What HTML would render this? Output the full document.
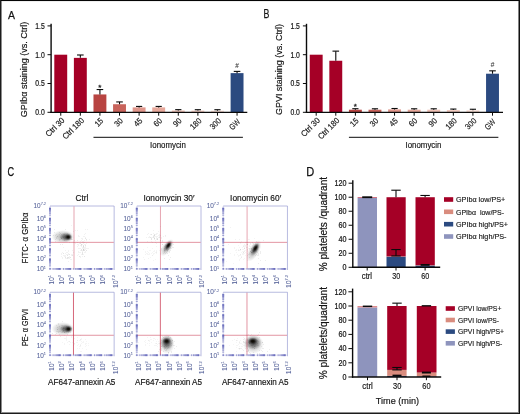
<!DOCTYPE html>
<html lang="en">
<head>
<meta charset="utf-8">
<title>Figure</title>
<style>
html, body { margin: 0; padding: 0; background: #fff; }
body { width: 520px; height: 414px; overflow: hidden; }
.frame { position: relative; width: 520px; height: 414px; box-sizing: border-box; background: #fff; }
svg { display: block; font-family: "Liberation Sans", sans-serif; }
</style>
</head>
<body>
<div class="frame">
<svg width="520" height="414" viewBox="0 0 520 414">
<text transform="translate(7.9 18.5)" font-size="11.8" text-anchor="start" fill="#141414" stroke="#141414" stroke-width="0.25" textLength="7" lengthAdjust="spacingAndGlyphs">A</text>
<rect x="54.30" y="54.70" width="12.90" height="57.60" fill="#a50026"/>
<line x1="60.75" y1="112.3" x2="60.75" y2="115.7" stroke="#0a0a0a" stroke-width="1.0"/>
<text transform="translate(65.05 120.9) rotate(-45)" font-size="8.2" text-anchor="end" fill="#141414" stroke="#141414" stroke-width="0.16" textLength="23" lengthAdjust="spacingAndGlyphs">Ctrl 30</text>
<rect x="73.89" y="57.87" width="12.90" height="54.43" fill="#a50026"/>
<line x1="80.34" y1="54.99" x2="80.34" y2="57.87" stroke="#0a0a0a" stroke-width="1.1"/>
<line x1="77.04" y1="54.99" x2="83.64" y2="54.99" stroke="#0a0a0a" stroke-width="1.1"/>
<line x1="80.34" y1="112.3" x2="80.34" y2="115.7" stroke="#0a0a0a" stroke-width="1.0"/>
<text transform="translate(84.64 120.9) rotate(-45)" font-size="8.2" text-anchor="end" fill="#141414" stroke="#141414" stroke-width="0.16" textLength="26.8" lengthAdjust="spacingAndGlyphs">Ctrl 180</text>
<rect x="93.48" y="94.44" width="12.90" height="17.86" fill="#b84441"/>
<line x1="99.93" y1="89.55" x2="99.93" y2="94.44" stroke="#0a0a0a" stroke-width="1.1"/>
<line x1="96.63" y1="89.55" x2="103.23" y2="89.55" stroke="#0a0a0a" stroke-width="1.1"/>
<line x1="99.93" y1="112.3" x2="99.93" y2="115.7" stroke="#0a0a0a" stroke-width="1.0"/>
<text transform="translate(103.83 121.2) rotate(-45)" font-size="8.2" text-anchor="end" fill="#141414" stroke="#141414" stroke-width="0.16" textLength="8.4" lengthAdjust="spacingAndGlyphs">15</text>
<text transform="translate(99.93 89.85)" font-size="8" text-anchor="middle" fill="#2a2a2a" stroke="#2a2a2a" stroke-width="0.35">*</text>
<rect x="113.07" y="104.24" width="12.90" height="8.06" fill="#c8635b"/>
<line x1="119.52" y1="101.93" x2="119.52" y2="104.24" stroke="#0a0a0a" stroke-width="1.1"/>
<line x1="116.22" y1="101.93" x2="122.82" y2="101.93" stroke="#0a0a0a" stroke-width="1.1"/>
<line x1="119.52" y1="112.3" x2="119.52" y2="115.7" stroke="#0a0a0a" stroke-width="1.0"/>
<text transform="translate(123.42 121.2) rotate(-45)" font-size="8.2" text-anchor="end" fill="#141414" stroke="#141414" stroke-width="0.16" textLength="8.4" lengthAdjust="spacingAndGlyphs">30</text>
<rect x="132.66" y="107.40" width="12.90" height="4.90" fill="#e0968b"/>
<line x1="139.11" y1="106.42" x2="139.11" y2="107.4" stroke="#0a0a0a" stroke-width="1.1"/>
<line x1="136.01" y1="106.42" x2="142.21" y2="106.42" stroke="#0a0a0a" stroke-width="1.1"/>
<line x1="139.11" y1="112.3" x2="139.11" y2="115.7" stroke="#0a0a0a" stroke-width="1.0"/>
<text transform="translate(143.01 121.2) rotate(-45)" font-size="8.2" text-anchor="end" fill="#141414" stroke="#141414" stroke-width="0.16" textLength="8.4" lengthAdjust="spacingAndGlyphs">45</text>
<rect x="152.25" y="107.40" width="12.90" height="4.90" fill="#e7a89b"/>
<line x1="158.7" y1="106.42" x2="158.7" y2="107.4" stroke="#0a0a0a" stroke-width="1.1"/>
<line x1="155.6" y1="106.42" x2="161.8" y2="106.42" stroke="#0a0a0a" stroke-width="1.1"/>
<line x1="158.7" y1="112.3" x2="158.7" y2="115.7" stroke="#0a0a0a" stroke-width="1.0"/>
<text transform="translate(162.6 121.2) rotate(-45)" font-size="8.2" text-anchor="end" fill="#141414" stroke="#141414" stroke-width="0.16" textLength="8.4" lengthAdjust="spacingAndGlyphs">60</text>
<rect x="171.84" y="110.46" width="12.90" height="1.84" fill="#f0c2b6"/>
<line x1="178.29" y1="109.65" x2="178.29" y2="110.46" stroke="#0a0a0a" stroke-width="1.1"/>
<line x1="175.19" y1="109.65" x2="181.39" y2="109.65" stroke="#0a0a0a" stroke-width="1.1"/>
<line x1="178.29" y1="112.3" x2="178.29" y2="115.7" stroke="#0a0a0a" stroke-width="1.0"/>
<text transform="translate(182.19 121.2) rotate(-45)" font-size="8.2" text-anchor="end" fill="#141414" stroke="#141414" stroke-width="0.16" textLength="8.4" lengthAdjust="spacingAndGlyphs">90</text>
<rect x="191.43" y="110.57" width="12.90" height="1.73" fill="#f3cdc2"/>
<line x1="197.88" y1="109.71" x2="197.88" y2="110.57" stroke="#0a0a0a" stroke-width="1.1"/>
<line x1="194.78" y1="109.71" x2="200.98" y2="109.71" stroke="#0a0a0a" stroke-width="1.1"/>
<line x1="197.88" y1="112.3" x2="197.88" y2="115.7" stroke="#0a0a0a" stroke-width="1.0"/>
<text transform="translate(202.08 121.3) rotate(-45)" font-size="8.2" text-anchor="end" fill="#141414" stroke="#141414" stroke-width="0.16" textLength="12.4" lengthAdjust="spacingAndGlyphs">180</text>
<rect x="211.02" y="110.69" width="12.90" height="1.61" fill="#f7dcd3"/>
<line x1="217.47" y1="109.71" x2="217.47" y2="110.69" stroke="#0a0a0a" stroke-width="1.1"/>
<line x1="214.37" y1="109.71" x2="220.57" y2="109.71" stroke="#0a0a0a" stroke-width="1.1"/>
<line x1="217.47" y1="112.3" x2="217.47" y2="115.7" stroke="#0a0a0a" stroke-width="1.0"/>
<text transform="translate(221.67 121.3) rotate(-45)" font-size="8.2" text-anchor="end" fill="#141414" stroke="#141414" stroke-width="0.16" textLength="12.4" lengthAdjust="spacingAndGlyphs">300</text>
<rect x="230.61" y="73.13" width="12.90" height="39.17" fill="#2b4a80"/>
<line x1="237.06" y1="71.4" x2="237.06" y2="73.13" stroke="#0a0a0a" stroke-width="1.1"/>
<line x1="233.76" y1="71.4" x2="240.36" y2="71.4" stroke="#0a0a0a" stroke-width="1.1"/>
<line x1="237.06" y1="112.3" x2="237.06" y2="115.7" stroke="#0a0a0a" stroke-width="1.0"/>
<text transform="translate(240.66 122.3) rotate(-45)" font-size="8.2" text-anchor="end" fill="#141414" stroke="#141414" stroke-width="0.16" textLength="11.6" lengthAdjust="spacingAndGlyphs">GW</text>
<text transform="translate(237.06 67.7)" font-size="6.4" text-anchor="middle" fill="#3a3a3a" stroke="#3a3a3a" stroke-width="0.08" textLength="3.6" lengthAdjust="spacingAndGlyphs">#</text>
<line x1="51.1" y1="23.8" x2="51.1" y2="113" stroke="#0a0a0a" stroke-width="1.4"/>
<line x1="50.4" y1="112.3" x2="247.3" y2="112.3" stroke="#0a0a0a" stroke-width="1.3"/>
<line x1="47.5" y1="112.3" x2="51.1" y2="112.3" stroke="#0a0a0a" stroke-width="1.0"/>
<text transform="translate(44.8 115.1)" font-size="8.3" text-anchor="end" fill="#141414" stroke="#141414" stroke-width="0.2" textLength="9.5" lengthAdjust="spacingAndGlyphs">0.0</text>
<line x1="47.5" y1="83.5" x2="51.1" y2="83.5" stroke="#0a0a0a" stroke-width="1.0"/>
<text transform="translate(44.8 86.3)" font-size="8.3" text-anchor="end" fill="#141414" stroke="#141414" stroke-width="0.2" textLength="9.5" lengthAdjust="spacingAndGlyphs">0.5</text>
<line x1="47.5" y1="54.7" x2="51.1" y2="54.7" stroke="#0a0a0a" stroke-width="1.0"/>
<text transform="translate(44.8 57.5)" font-size="8.3" text-anchor="end" fill="#141414" stroke="#141414" stroke-width="0.2" textLength="9.5" lengthAdjust="spacingAndGlyphs">1.0</text>
<line x1="47.5" y1="25.9" x2="51.1" y2="25.9" stroke="#0a0a0a" stroke-width="1.0"/>
<text transform="translate(44.8 28.7)" font-size="8.3" text-anchor="end" fill="#141414" stroke="#141414" stroke-width="0.2" textLength="9.5" lengthAdjust="spacingAndGlyphs">1.5</text>
<text transform="translate(27.4 69.5) rotate(-90)" font-size="9.9" text-anchor="middle" fill="#141414" stroke="#141414" stroke-width="0.17" textLength="95.5" lengthAdjust="spacingAndGlyphs">GPIbα staining (vs. Ctrl)</text>
<line x1="93.48" y1="137.3" x2="242.91" y2="137.3" stroke="#0a0a0a" stroke-width="1.0"/>
<text transform="translate(150.1 147.8)" font-size="8.6" text-anchor="start" fill="#141414" stroke="#141414" stroke-width="0.16" textLength="35.9" lengthAdjust="spacingAndGlyphs">Ionomycin</text>
<text transform="translate(263.6 18.35)" font-size="11.9" text-anchor="start" fill="#141414" stroke="#141414" stroke-width="0.25" textLength="5.9" lengthAdjust="spacingAndGlyphs">B</text>
<rect x="309.75" y="54.70" width="12.90" height="57.60" fill="#a50026"/>
<line x1="316.2" y1="112.3" x2="316.2" y2="115.7" stroke="#0a0a0a" stroke-width="1.0"/>
<text transform="translate(320.5 120.9) rotate(-45)" font-size="8.2" text-anchor="end" fill="#141414" stroke="#141414" stroke-width="0.16" textLength="23" lengthAdjust="spacingAndGlyphs">Ctrl 30</text>
<rect x="329.34" y="60.75" width="12.90" height="51.55" fill="#a50026"/>
<line x1="335.79" y1="51.13" x2="335.79" y2="60.75" stroke="#0a0a0a" stroke-width="1.1"/>
<line x1="332.49" y1="51.13" x2="339.09" y2="51.13" stroke="#0a0a0a" stroke-width="1.1"/>
<line x1="335.79" y1="112.3" x2="335.79" y2="115.7" stroke="#0a0a0a" stroke-width="1.0"/>
<text transform="translate(340.09 120.9) rotate(-45)" font-size="8.2" text-anchor="end" fill="#141414" stroke="#141414" stroke-width="0.16" textLength="26.8" lengthAdjust="spacingAndGlyphs">Ctrl 180</text>
<rect x="348.93" y="109.71" width="12.90" height="2.59" fill="#b84441"/>
<line x1="355.38" y1="108.7" x2="355.38" y2="109.71" stroke="#0a0a0a" stroke-width="1.1"/>
<line x1="352.28" y1="108.7" x2="358.48" y2="108.7" stroke="#0a0a0a" stroke-width="1.1"/>
<line x1="355.38" y1="112.3" x2="355.38" y2="115.7" stroke="#0a0a0a" stroke-width="1.0"/>
<text transform="translate(359.28 121.2) rotate(-45)" font-size="8.2" text-anchor="end" fill="#141414" stroke="#141414" stroke-width="0.16" textLength="8.4" lengthAdjust="spacingAndGlyphs">15</text>
<text transform="translate(355.38 109)" font-size="8" text-anchor="middle" fill="#2a2a2a" stroke="#2a2a2a" stroke-width="0.35">*</text>
<rect x="368.52" y="109.71" width="12.90" height="2.59" fill="#c8635b"/>
<line x1="374.97" y1="108.79" x2="374.97" y2="109.71" stroke="#0a0a0a" stroke-width="1.1"/>
<line x1="371.87" y1="108.79" x2="378.07" y2="108.79" stroke="#0a0a0a" stroke-width="1.1"/>
<line x1="374.97" y1="112.3" x2="374.97" y2="115.7" stroke="#0a0a0a" stroke-width="1.0"/>
<text transform="translate(378.87 121.2) rotate(-45)" font-size="8.2" text-anchor="end" fill="#141414" stroke="#141414" stroke-width="0.16" textLength="8.4" lengthAdjust="spacingAndGlyphs">30</text>
<rect x="388.11" y="109.42" width="12.90" height="2.88" fill="#e0968b"/>
<line x1="394.56" y1="108.5" x2="394.56" y2="109.42" stroke="#0a0a0a" stroke-width="1.1"/>
<line x1="391.46" y1="108.5" x2="397.66" y2="108.5" stroke="#0a0a0a" stroke-width="1.1"/>
<line x1="394.56" y1="112.3" x2="394.56" y2="115.7" stroke="#0a0a0a" stroke-width="1.0"/>
<text transform="translate(398.46 121.2) rotate(-45)" font-size="8.2" text-anchor="end" fill="#141414" stroke="#141414" stroke-width="0.16" textLength="8.4" lengthAdjust="spacingAndGlyphs">45</text>
<rect x="407.70" y="109.71" width="12.90" height="2.59" fill="#e7a89b"/>
<line x1="414.15" y1="108.79" x2="414.15" y2="109.71" stroke="#0a0a0a" stroke-width="1.1"/>
<line x1="411.05" y1="108.79" x2="417.25" y2="108.79" stroke="#0a0a0a" stroke-width="1.1"/>
<line x1="414.15" y1="112.3" x2="414.15" y2="115.7" stroke="#0a0a0a" stroke-width="1.0"/>
<text transform="translate(418.05 121.2) rotate(-45)" font-size="8.2" text-anchor="end" fill="#141414" stroke="#141414" stroke-width="0.16" textLength="8.4" lengthAdjust="spacingAndGlyphs">60</text>
<rect x="427.29" y="109.71" width="12.90" height="2.59" fill="#f0c2b6"/>
<line x1="433.74" y1="108.79" x2="433.74" y2="109.71" stroke="#0a0a0a" stroke-width="1.1"/>
<line x1="430.64" y1="108.79" x2="436.84" y2="108.79" stroke="#0a0a0a" stroke-width="1.1"/>
<line x1="433.74" y1="112.3" x2="433.74" y2="115.7" stroke="#0a0a0a" stroke-width="1.0"/>
<text transform="translate(437.64 121.2) rotate(-45)" font-size="8.2" text-anchor="end" fill="#141414" stroke="#141414" stroke-width="0.16" textLength="8.4" lengthAdjust="spacingAndGlyphs">90</text>
<rect x="446.88" y="110.00" width="12.90" height="2.30" fill="#f3cdc2"/>
<line x1="453.33" y1="109.07" x2="453.33" y2="110" stroke="#0a0a0a" stroke-width="1.1"/>
<line x1="450.23" y1="109.07" x2="456.43" y2="109.07" stroke="#0a0a0a" stroke-width="1.1"/>
<line x1="453.33" y1="112.3" x2="453.33" y2="115.7" stroke="#0a0a0a" stroke-width="1.0"/>
<text transform="translate(457.53 121.3) rotate(-45)" font-size="8.2" text-anchor="end" fill="#141414" stroke="#141414" stroke-width="0.16" textLength="12.4" lengthAdjust="spacingAndGlyphs">180</text>
<rect x="466.47" y="110.28" width="12.90" height="2.02" fill="#f7dcd3"/>
<line x1="472.92" y1="109.25" x2="472.92" y2="110.28" stroke="#0a0a0a" stroke-width="1.1"/>
<line x1="469.82" y1="109.25" x2="476.02" y2="109.25" stroke="#0a0a0a" stroke-width="1.1"/>
<line x1="472.92" y1="112.3" x2="472.92" y2="115.7" stroke="#0a0a0a" stroke-width="1.0"/>
<text transform="translate(477.12 121.3) rotate(-45)" font-size="8.2" text-anchor="end" fill="#141414" stroke="#141414" stroke-width="0.16" textLength="12.4" lengthAdjust="spacingAndGlyphs">300</text>
<rect x="486.06" y="73.71" width="12.90" height="38.59" fill="#2b4a80"/>
<line x1="492.51" y1="70.83" x2="492.51" y2="73.71" stroke="#0a0a0a" stroke-width="1.1"/>
<line x1="489.21" y1="70.83" x2="495.81" y2="70.83" stroke="#0a0a0a" stroke-width="1.1"/>
<line x1="492.51" y1="112.3" x2="492.51" y2="115.7" stroke="#0a0a0a" stroke-width="1.0"/>
<text transform="translate(496.11 122.3) rotate(-45)" font-size="8.2" text-anchor="end" fill="#141414" stroke="#141414" stroke-width="0.16" textLength="11.6" lengthAdjust="spacingAndGlyphs">GW</text>
<text transform="translate(492.51 67.13)" font-size="6.4" text-anchor="middle" fill="#3a3a3a" stroke="#3a3a3a" stroke-width="0.08" textLength="3.6" lengthAdjust="spacingAndGlyphs">#</text>
<line x1="306.5" y1="23.8" x2="306.5" y2="113" stroke="#0a0a0a" stroke-width="1.4"/>
<line x1="305.8" y1="112.3" x2="503" y2="112.3" stroke="#0a0a0a" stroke-width="1.3"/>
<line x1="302.9" y1="112.3" x2="306.5" y2="112.3" stroke="#0a0a0a" stroke-width="1.0"/>
<text transform="translate(299.9 115.1)" font-size="8.3" text-anchor="end" fill="#141414" stroke="#141414" stroke-width="0.2" textLength="9.5" lengthAdjust="spacingAndGlyphs">0.0</text>
<line x1="302.9" y1="83.5" x2="306.5" y2="83.5" stroke="#0a0a0a" stroke-width="1.0"/>
<text transform="translate(299.9 86.3)" font-size="8.3" text-anchor="end" fill="#141414" stroke="#141414" stroke-width="0.2" textLength="9.5" lengthAdjust="spacingAndGlyphs">0.5</text>
<line x1="302.9" y1="54.7" x2="306.5" y2="54.7" stroke="#0a0a0a" stroke-width="1.0"/>
<text transform="translate(299.9 57.5)" font-size="8.3" text-anchor="end" fill="#141414" stroke="#141414" stroke-width="0.2" textLength="9.5" lengthAdjust="spacingAndGlyphs">1.0</text>
<line x1="302.9" y1="25.9" x2="306.5" y2="25.9" stroke="#0a0a0a" stroke-width="1.0"/>
<text transform="translate(299.9 28.7)" font-size="8.3" text-anchor="end" fill="#141414" stroke="#141414" stroke-width="0.2" textLength="9.5" lengthAdjust="spacingAndGlyphs">1.5</text>
<text transform="translate(282.3 69.5) rotate(-90)" font-size="9.9" text-anchor="middle" fill="#141414" stroke="#141414" stroke-width="0.17" textLength="91" lengthAdjust="spacingAndGlyphs">GPVI staining (vs. Ctrl)</text>
<line x1="348.93" y1="137.3" x2="498.36" y2="137.3" stroke="#0a0a0a" stroke-width="1.0"/>
<text transform="translate(405.5 147.8)" font-size="8.6" text-anchor="start" fill="#141414" stroke="#141414" stroke-width="0.16" textLength="35.9" lengthAdjust="spacingAndGlyphs">Ionomycin</text>
<text transform="translate(7.6 175.7)" font-size="12.1" text-anchor="start" fill="#141414" stroke="#141414" stroke-width="0.25" textLength="6.6" lengthAdjust="spacingAndGlyphs">C</text>
<defs>
<radialGradient id="g1"><stop offset="0" stop-color="#0a0600" stop-opacity="0.97"/><stop offset="0.28" stop-color="#0a0600" stop-opacity="0.88"/><stop offset="0.6" stop-color="#151515" stop-opacity="0.45"/><stop offset="1" stop-color="#333" stop-opacity="0"/></radialGradient>
<radialGradient id="g2"><stop offset="0" stop-color="#222" stop-opacity="0.42"/><stop offset="0.5" stop-color="#333" stop-opacity="0.22"/><stop offset="1" stop-color="#444" stop-opacity="0"/></radialGradient>
<radialGradient id="g3"><stop offset="0" stop-color="#333" stop-opacity="0.1"/><stop offset="0.6" stop-color="#444" stop-opacity="0.05"/><stop offset="1" stop-color="#555" stop-opacity="0"/></radialGradient>
<radialGradient id="g5"><stop offset="0" stop-color="#111" stop-opacity="0.6"/><stop offset="0.45" stop-color="#1a1a1a" stop-opacity="0.42"/><stop offset="0.75" stop-color="#2a2a2a" stop-opacity="0.18"/><stop offset="1" stop-color="#444" stop-opacity="0"/></radialGradient>
<radialGradient id="g4"><stop offset="0" stop-color="#333" stop-opacity="0.035"/><stop offset="0.6" stop-color="#444" stop-opacity="0.02"/><stop offset="1" stop-color="#555" stop-opacity="0"/></radialGradient>
</defs>
<path d="M61 253h1v1h-1zM61 254h1v1h-1zM61 256h1v1h-1zM62 252h1v1h-1zM62 257h1v1h-1zM62 258h1v1h-1zM63 247h1v1h-1zM63 255h1v1h-1zM64 239h1v1h-1zM64 255h1v1h-1zM64 256h1v1h-1zM65 250h1v1h-1zM65 253h1v1h-1zM65 255h1v1h-1zM65 256h1v1h-1zM65 258h1v1h-1zM66 252h1v1h-1zM66 254h1v1h-1zM66 258h1v1h-1zM67 252h1v1h-1zM67 254h1v1h-1zM68 250h1v1h-1zM68 251h1v1h-1zM68 253h1v1h-1zM68 254h1v1h-1zM68 258h1v1h-1zM68 261h1v1h-1zM69 256h1v1h-1zM69 257h1v1h-1zM69 258h1v1h-1zM70 259h1v1h-1zM71 225h1v1h-1zM71 254h1v1h-1zM71 255h1v1h-1zM71 259h1v1h-1zM72 250h1v1h-1zM72 254h1v1h-1zM73 231h1v1h-1zM73 252h1v1h-1zM75 230h1v1h-1zM75 243h1v1h-1zM77 230h1v1h-1zM77 242h1v1h-1zM77 244h1v1h-1zM77 246h1v1h-1zM77 255h1v1h-1zM78 235h1v1h-1zM78 236h1v1h-1zM78 244h1v1h-1zM78 245h1v1h-1zM78 248h1v1h-1zM78 251h1v1h-1zM78 252h1v1h-1zM78 254h1v1h-1zM79 236h1v1h-1zM79 243h1v1h-1zM79 248h1v1h-1zM79 252h1v1h-1zM80 241h1v1h-1zM80 245h1v1h-1zM80 248h1v1h-1zM80 250h1v1h-1zM80 252h1v1h-1zM80 256h1v1h-1zM80 257h1v1h-1zM81 238h1v1h-1zM81 240h1v1h-1zM81 246h1v1h-1zM81 254h1v1h-1zM82 238h1v1h-1zM82 239h1v1h-1zM82 241h1v1h-1zM82 242h1v1h-1zM82 244h1v1h-1zM82 247h1v1h-1zM82 248h1v1h-1zM82 250h1v1h-1zM82 251h1v1h-1zM82 256h1v1h-1zM83 236h1v1h-1zM83 241h1v1h-1zM83 242h1v1h-1zM83 243h1v1h-1zM83 248h1v1h-1zM83 254h1v1h-1zM84 234h1v1h-1zM84 236h1v1h-1zM84 240h1v1h-1zM84 242h1v1h-1zM84 244h1v1h-1zM84 247h1v1h-1zM84 248h1v1h-1zM84 249h1v1h-1zM84 252h1v1h-1zM85 229h1v1h-1zM85 233h1v1h-1zM85 237h1v1h-1zM85 244h1v1h-1zM85 246h1v1h-1zM85 247h1v1h-1zM85 248h1v1h-1zM85 249h1v1h-1zM85 251h1v1h-1zM85 252h1v1h-1zM86 240h1v1h-1zM86 243h1v1h-1zM86 248h1v1h-1zM87 229h1v1h-1zM87 248h1v1h-1zM88 248h1v1h-1zM89 239h1v1h-1z" fill="#000" opacity="0.05"/>
<path d="M53 235h1v1h-1zM54 229h1v1h-1zM54 232h1v1h-1zM55 235h1v1h-1zM55 239h1v1h-1zM55 241h1v1h-1zM56 234h1v1h-1zM56 237h1v1h-1zM56 238h1v1h-1zM59 232h1v1h-1zM59 234h1v1h-1zM59 239h1v1h-1zM59 240h1v1h-1zM60 233h1v1h-1zM60 237h1v1h-1zM60 239h1v1h-1zM60 244h1v1h-1zM61 234h1v1h-1zM61 237h1v1h-1zM62 244h1v1h-1zM63 234h1v1h-1zM63 237h1v1h-1zM64 234h1v1h-1zM64 236h1v1h-1zM64 237h1v1h-1zM64 238h1v1h-1zM64 240h1v1h-1zM65 229h1v1h-1zM65 237h1v1h-1zM65 238h1v1h-1zM65 239h1v1h-1zM66 237h1v1h-1zM67 233h1v1h-1zM68 236h1v1h-1zM69 242h1v1h-1zM70 239h1v1h-1zM71 238h1v1h-1zM72 239h1v1h-1zM74 240h1v1h-1zM77 240h1v1h-1z" fill="#000" opacity="0.07"/>
<path d="M63 253h1v1h-1zM65 257h1v1h-1zM67 255h1v1h-1zM67 257h1v1h-1zM67 258h1v1h-1zM68 257h1v1h-1zM69 254h1v1h-1zM70 257h1v1h-1zM72 255h1v1h-1zM79 256h1v1h-1zM80 243h1v1h-1zM81 245h1v1h-1zM81 249h1v1h-1zM81 250h1v1h-1zM82 252h1v1h-1zM82 253h1v1h-1zM82 254h1v1h-1zM83 245h1v1h-1zM83 247h1v1h-1zM84 250h1v1h-1zM84 256h1v1h-1zM85 238h1v1h-1zM85 245h1v1h-1zM86 239h1v1h-1zM86 250h1v1h-1z" fill="#000" opacity="0.1"/>
<path d="M57 236h1v1h-1zM71 239h1v1h-1z" fill="#000" opacity="0.14"/>
<path d="M81 244h1v1h-1zM83 246h1v1h-1zM83 250h1v1h-1z" fill="#000" opacity="0.15"/>
<path d="M83 249h1v1h-1z" fill="#000" opacity="0.2"/>
<path d="M61 238h1v1h-1z" fill="#000" opacity="0.21"/>
<ellipse cx="63.0" cy="236.8" rx="11.5" ry="6.8" fill="url(#g2)" transform="rotate(0 63.0 236.8)"/>
<ellipse cx="66.2" cy="237.0" rx="6.6" ry="5.0" fill="url(#g5)" transform="rotate(0 66.2 237.0)"/>
<ellipse cx="68.2" cy="237.1" rx="3.9" ry="3.4" fill="url(#g1)" transform="rotate(0 68.2 237.1)"/>
<path d="M50 206H114.15V270" fill="none" stroke="#8c90cc" stroke-width="0.62"/>
<path d="M50 206V268.9H114.15" fill="none" stroke="#8c90cc" stroke-width="0.7" opacity="0.4"/>
<line x1="74" y1="206.4" x2="74" y2="268.5" stroke="#c42a45" stroke-width="0.42"/>
<line x1="50.4" y1="242.35" x2="113.75" y2="242.35" stroke="#c42a45" stroke-width="0.5"/>
<path d="M49.00 268.90h2M49.00 265.85h2M49.00 264.06h2M49.00 262.79h2M49.00 261.81h2M49.00 261.01h2M49.00 260.33h2M49.00 259.74h2M49.00 259.22h2M49.00 258.75h2M49.00 255.70h2M49.00 253.91h2M49.00 252.65h2M49.00 251.66h2M49.00 250.86h2M49.00 250.18h2M49.00 249.59h2M49.00 249.07h2M49.00 248.61h2M49.00 245.56h2M49.00 243.77h2M49.00 242.50h2M49.00 241.52h2M49.00 240.72h2M49.00 240.04h2M49.00 239.45h2M49.00 238.93h2M49.00 238.46h2M49.00 235.41h2M49.00 233.62h2M49.00 232.36h2M49.00 231.37h2M49.00 230.57h2M49.00 229.89h2M49.00 229.30h2M49.00 228.78h2M49.00 228.32h2M49.00 225.27h2M49.00 223.48h2M49.00 222.21h2M49.00 221.23h2M49.00 220.42h2M49.00 219.75h2M49.00 219.16h2M49.00 218.64h2M49.00 218.17h2M49.00 215.12h2M49.00 213.33h2M49.00 212.07h2M49.00 211.08h2M49.00 210.28h2M49.00 209.60h2M49.00 209.01h2M49.00 208.49h2M49.00 208.03h2M50.00 268.00v1.9M53.11 268.00v1.9M54.94 268.00v1.9M56.23 268.00v1.9M57.23 268.00v1.9M58.05 268.00v1.9M58.74 268.00v1.9M59.34 268.00v1.9M59.87 268.00v1.9M60.35 268.00v1.9M63.46 268.00v1.9M65.28 268.00v1.9M66.58 268.00v1.9M67.58 268.00v1.9M68.40 268.00v1.9M69.09 268.00v1.9M69.69 268.00v1.9M70.22 268.00v1.9M70.69 268.00v1.9M73.81 268.00v1.9M75.63 268.00v1.9M76.92 268.00v1.9M77.93 268.00v1.9M78.74 268.00v1.9M79.44 268.00v1.9M80.04 268.00v1.9M80.57 268.00v1.9M81.04 268.00v1.9M84.16 268.00v1.9M85.98 268.00v1.9M87.27 268.00v1.9M88.27 268.00v1.9M89.09 268.00v1.9M89.78 268.00v1.9M90.38 268.00v1.9M90.91 268.00v1.9M91.39 268.00v1.9M94.50 268.00v1.9M96.32 268.00v1.9M97.62 268.00v1.9M98.62 268.00v1.9M99.44 268.00v1.9M100.13 268.00v1.9M100.73 268.00v1.9M101.26 268.00v1.9M101.73 268.00v1.9M104.85 268.00v1.9M106.67 268.00v1.9M107.96 268.00v1.9M108.97 268.00v1.9M109.79 268.00v1.9M110.48 268.00v1.9M111.08 268.00v1.9M111.61 268.00v1.9M112.08 268.00v1.9" fill="none" stroke="#2a2fa0" stroke-width="0.44"/>
<text transform="translate(46.00 271.40) scale(0.9 1)" font-size="7.2" text-anchor="end" fill="#56639a" stroke="#56639a" stroke-width="0.06">10<tspan font-size="4.3" dy="-2.9">1</tspan></text>
<text transform="translate(53.70 275.10) rotate(-90) scale(0.9 1)" font-size="7.2" text-anchor="end" fill="#56639a" stroke="#56639a" stroke-width="0.06">10<tspan font-size="4.3" dy="-2.9">1</tspan></text>
<text transform="translate(46.00 261.25) scale(0.9 1)" font-size="7.2" text-anchor="end" fill="#56639a" stroke="#56639a" stroke-width="0.06">10<tspan font-size="4.3" dy="-2.9">2</tspan></text>
<text transform="translate(64.05 275.10) rotate(-90) scale(0.9 1)" font-size="7.2" text-anchor="end" fill="#56639a" stroke="#56639a" stroke-width="0.06">10<tspan font-size="4.3" dy="-2.9">2</tspan></text>
<text transform="translate(46.00 251.11) scale(0.9 1)" font-size="7.2" text-anchor="end" fill="#56639a" stroke="#56639a" stroke-width="0.06">10<tspan font-size="4.3" dy="-2.9">3</tspan></text>
<text transform="translate(74.39 275.10) rotate(-90) scale(0.9 1)" font-size="7.2" text-anchor="end" fill="#56639a" stroke="#56639a" stroke-width="0.06">10<tspan font-size="4.3" dy="-2.9">3</tspan></text>
<text transform="translate(46.00 240.96) scale(0.9 1)" font-size="7.2" text-anchor="end" fill="#56639a" stroke="#56639a" stroke-width="0.06">10<tspan font-size="4.3" dy="-2.9">4</tspan></text>
<text transform="translate(84.74 275.10) rotate(-90) scale(0.9 1)" font-size="7.2" text-anchor="end" fill="#56639a" stroke="#56639a" stroke-width="0.06">10<tspan font-size="4.3" dy="-2.9">4</tspan></text>
<text transform="translate(46.00 230.82) scale(0.9 1)" font-size="7.2" text-anchor="end" fill="#56639a" stroke="#56639a" stroke-width="0.06">10<tspan font-size="4.3" dy="-2.9">5</tspan></text>
<text transform="translate(95.09 275.10) rotate(-90) scale(0.9 1)" font-size="7.2" text-anchor="end" fill="#56639a" stroke="#56639a" stroke-width="0.06">10<tspan font-size="4.3" dy="-2.9">5</tspan></text>
<text transform="translate(46.00 220.67) scale(0.9 1)" font-size="7.2" text-anchor="end" fill="#56639a" stroke="#56639a" stroke-width="0.06">10<tspan font-size="4.3" dy="-2.9">6</tspan></text>
<text transform="translate(105.43 275.10) rotate(-90) scale(0.9 1)" font-size="7.2" text-anchor="end" fill="#56639a" stroke="#56639a" stroke-width="0.06">10<tspan font-size="4.3" dy="-2.9">6</tspan></text>
<text transform="translate(46.00 208.20) scale(0.9 1)" font-size="7.2" text-anchor="end" fill="#56639a" stroke="#56639a" stroke-width="0.06">10<tspan font-size="4.3" dy="-2.9">7.2</tspan></text>
<text transform="translate(117.55 275.10) rotate(-90) scale(0.9 1)" font-size="7.2" text-anchor="end" fill="#56639a" stroke="#56639a" stroke-width="0.06">10<tspan font-size="4.3" dy="-2.9">7.2</tspan></text>
<text transform="translate(75.5 201.1)" font-size="8.9" text-anchor="start" fill="#141414" stroke="#141414" stroke-width="0.17" textLength="12.8" lengthAdjust="spacingAndGlyphs">Ctrl</text>
<text transform="translate(27.7 238) rotate(-90)" font-size="8.7" text-anchor="middle" fill="#141414" stroke="#141414" stroke-width="0.17" textLength="50.8" lengthAdjust="spacingAndGlyphs">FITC- α GPIbα</text>
<path d="M143 249h1v1h-1zM143 257h1v1h-1zM145 251h1v1h-1zM145 252h1v1h-1zM146 253h1v1h-1zM147 247h1v1h-1zM147 251h1v1h-1zM147 253h1v1h-1zM147 254h1v1h-1zM148 252h1v1h-1zM148 254h1v1h-1zM149 250h1v1h-1zM149 253h1v1h-1zM149 254h1v1h-1zM150 250h1v1h-1zM150 257h1v1h-1zM151 253h1v1h-1zM152 248h1v1h-1zM152 252h1v1h-1zM153 251h1v1h-1zM153 253h1v1h-1zM153 254h1v1h-1zM153 260h1v1h-1zM154 250h1v1h-1zM154 251h1v1h-1zM154 253h1v1h-1zM155 252h1v1h-1zM155 259h1v1h-1zM156 246h1v1h-1zM156 250h1v1h-1zM156 253h1v1h-1zM159 250h1v1h-1zM160 253h1v1h-1zM160 254h1v1h-1zM161 250h1v1h-1zM166 245h1v1h-1z" fill="#000" opacity="0.04"/>
<path d="M144 259h1v1h-1zM145 254h1v1h-1zM146 237h1v1h-1zM147 234h1v1h-1zM147 241h1v1h-1zM148 233h1v1h-1zM148 237h1v1h-1zM148 258h1v1h-1zM149 236h1v1h-1zM149 237h1v1h-1zM150 234h1v1h-1zM151 237h1v1h-1zM151 241h1v1h-1zM152 237h1v1h-1zM152 242h1v1h-1zM153 230h1v1h-1zM153 233h1v1h-1zM153 235h1v1h-1zM154 236h1v1h-1zM154 237h1v1h-1zM154 239h1v1h-1zM155 234h1v1h-1zM155 236h1v1h-1zM155 240h1v1h-1zM155 242h1v1h-1zM156 233h1v1h-1zM156 234h1v1h-1zM156 236h1v1h-1zM156 237h1v1h-1zM156 238h1v1h-1zM156 239h1v1h-1zM156 243h1v1h-1zM156 251h1v1h-1zM157 233h1v1h-1zM157 236h1v1h-1zM158 231h1v1h-1zM158 235h1v1h-1zM158 237h1v1h-1zM159 234h1v1h-1zM159 235h1v1h-1zM159 236h1v1h-1zM160 226h1v1h-1zM160 235h1v1h-1zM160 242h1v1h-1zM161 237h1v1h-1zM161 238h1v1h-1zM163 236h1v1h-1zM163 253h1v1h-1zM164 246h1v1h-1zM165 236h1v1h-1zM165 244h1v1h-1zM167 242h1v1h-1zM167 244h1v1h-1zM171 248h1v1h-1z" fill="#000" opacity="0.05"/>
<path d="M161 248h1v1h-1zM161 249h1v1h-1zM162 240h1v1h-1zM162 241h1v1h-1zM164 248h1v1h-1zM164 249h1v1h-1zM164 251h1v1h-1zM164 252h1v1h-1zM164 258h1v1h-1zM165 235h1v1h-1zM165 245h1v1h-1zM165 246h1v1h-1zM165 253h1v1h-1zM166 247h1v1h-1zM166 248h1v1h-1zM166 249h1v1h-1zM166 252h1v1h-1zM167 249h1v1h-1zM167 251h1v1h-1zM167 253h1v1h-1zM168 242h1v1h-1zM168 246h1v1h-1zM168 249h1v1h-1zM168 255h1v1h-1zM169 251h1v1h-1zM169 252h1v1h-1zM169 259h1v1h-1zM170 245h1v1h-1zM170 247h1v1h-1zM170 248h1v1h-1zM170 250h1v1h-1zM170 257h1v1h-1zM172 247h1v1h-1zM173 244h1v1h-1zM173 247h1v1h-1z" fill="#000" opacity="0.07"/>
<path d="M152 255h1v1h-1zM156 252h1v1h-1z" fill="#000" opacity="0.08"/>
<path d="M150 237h1v1h-1zM151 234h1v1h-1zM151 238h1v1h-1zM151 239h1v1h-1zM153 236h1v1h-1zM153 237h1v1h-1zM154 234h1v1h-1zM157 238h1v1h-1zM159 237h1v1h-1zM160 240h1v1h-1z" fill="#000" opacity="0.1"/>
<path d="M162 244h1v1h-1z" fill="#000" opacity="0.12"/>
<path d="M164 250h1v1h-1zM167 250h1v1h-1z" fill="#000" opacity="0.14"/>
<path d="M154 235h1v1h-1zM154 238h1v1h-1zM157 239h1v1h-1z" fill="#000" opacity="0.15"/>
<ellipse cx="167.0" cy="247.6" rx="10.0" ry="4.8" fill="url(#g2)" transform="rotate(-55 167.0 247.6)"/>
<ellipse cx="168.0" cy="246.0" rx="6.8" ry="3.6" fill="url(#g5)" transform="rotate(-55 168.0 246.0)"/>
<ellipse cx="168.5" cy="245.2" rx="4.6" ry="2.3" fill="url(#g1)" transform="rotate(-55 168.5 245.2)"/>
<path d="M136.8 206H201V270" fill="none" stroke="#8c90cc" stroke-width="0.62"/>
<path d="M136.8 206V268.9H201" fill="none" stroke="#8c90cc" stroke-width="0.7" opacity="0.4"/>
<line x1="160.46" y1="206.4" x2="160.46" y2="268.5" stroke="#c42a45" stroke-width="0.42"/>
<line x1="137.2" y1="242.35" x2="200.6" y2="242.35" stroke="#c42a45" stroke-width="0.5"/>
<path d="M135.80 268.90h2M135.80 265.85h2M135.80 264.06h2M135.80 262.79h2M135.80 261.81h2M135.80 261.01h2M135.80 260.33h2M135.80 259.74h2M135.80 259.22h2M135.80 258.75h2M135.80 255.70h2M135.80 253.91h2M135.80 252.65h2M135.80 251.66h2M135.80 250.86h2M135.80 250.18h2M135.80 249.59h2M135.80 249.07h2M135.80 248.61h2M135.80 245.56h2M135.80 243.77h2M135.80 242.50h2M135.80 241.52h2M135.80 240.72h2M135.80 240.04h2M135.80 239.45h2M135.80 238.93h2M135.80 238.46h2M135.80 235.41h2M135.80 233.62h2M135.80 232.36h2M135.80 231.37h2M135.80 230.57h2M135.80 229.89h2M135.80 229.30h2M135.80 228.78h2M135.80 228.32h2M135.80 225.27h2M135.80 223.48h2M135.80 222.21h2M135.80 221.23h2M135.80 220.42h2M135.80 219.75h2M135.80 219.16h2M135.80 218.64h2M135.80 218.17h2M135.80 215.12h2M135.80 213.33h2M135.80 212.07h2M135.80 211.08h2M135.80 210.28h2M135.80 209.60h2M135.80 209.01h2M135.80 208.49h2M135.80 208.03h2M136.80 268.00v1.9M139.92 268.00v1.9M141.74 268.00v1.9M143.03 268.00v1.9M144.04 268.00v1.9M144.86 268.00v1.9M145.55 268.00v1.9M146.15 268.00v1.9M146.68 268.00v1.9M147.15 268.00v1.9M150.27 268.00v1.9M152.10 268.00v1.9M153.39 268.00v1.9M154.39 268.00v1.9M155.21 268.00v1.9M155.91 268.00v1.9M156.51 268.00v1.9M157.04 268.00v1.9M157.51 268.00v1.9M160.63 268.00v1.9M162.45 268.00v1.9M163.74 268.00v1.9M164.75 268.00v1.9M165.57 268.00v1.9M166.26 268.00v1.9M166.86 268.00v1.9M167.39 268.00v1.9M167.86 268.00v1.9M170.98 268.00v1.9M172.81 268.00v1.9M174.10 268.00v1.9M175.10 268.00v1.9M175.92 268.00v1.9M176.62 268.00v1.9M177.22 268.00v1.9M177.75 268.00v1.9M178.22 268.00v1.9M181.34 268.00v1.9M183.16 268.00v1.9M184.45 268.00v1.9M185.46 268.00v1.9M186.28 268.00v1.9M186.97 268.00v1.9M187.57 268.00v1.9M188.10 268.00v1.9M188.57 268.00v1.9M191.69 268.00v1.9M193.51 268.00v1.9M194.81 268.00v1.9M195.81 268.00v1.9M196.63 268.00v1.9M197.33 268.00v1.9M197.93 268.00v1.9M198.46 268.00v1.9M198.93 268.00v1.9" fill="none" stroke="#2a2fa0" stroke-width="0.44"/>
<text transform="translate(132.80 271.40) scale(0.9 1)" font-size="7.2" text-anchor="end" fill="#56639a" stroke="#56639a" stroke-width="0.06">10<tspan font-size="4.3" dy="-2.9">1</tspan></text>
<text transform="translate(140.50 275.10) rotate(-90) scale(0.9 1)" font-size="7.2" text-anchor="end" fill="#56639a" stroke="#56639a" stroke-width="0.06">10<tspan font-size="4.3" dy="-2.9">1</tspan></text>
<text transform="translate(132.80 261.25) scale(0.9 1)" font-size="7.2" text-anchor="end" fill="#56639a" stroke="#56639a" stroke-width="0.06">10<tspan font-size="4.3" dy="-2.9">2</tspan></text>
<text transform="translate(150.85 275.10) rotate(-90) scale(0.9 1)" font-size="7.2" text-anchor="end" fill="#56639a" stroke="#56639a" stroke-width="0.06">10<tspan font-size="4.3" dy="-2.9">2</tspan></text>
<text transform="translate(132.80 251.11) scale(0.9 1)" font-size="7.2" text-anchor="end" fill="#56639a" stroke="#56639a" stroke-width="0.06">10<tspan font-size="4.3" dy="-2.9">3</tspan></text>
<text transform="translate(161.21 275.10) rotate(-90) scale(0.9 1)" font-size="7.2" text-anchor="end" fill="#56639a" stroke="#56639a" stroke-width="0.06">10<tspan font-size="4.3" dy="-2.9">3</tspan></text>
<text transform="translate(132.80 240.96) scale(0.9 1)" font-size="7.2" text-anchor="end" fill="#56639a" stroke="#56639a" stroke-width="0.06">10<tspan font-size="4.3" dy="-2.9">4</tspan></text>
<text transform="translate(171.56 275.10) rotate(-90) scale(0.9 1)" font-size="7.2" text-anchor="end" fill="#56639a" stroke="#56639a" stroke-width="0.06">10<tspan font-size="4.3" dy="-2.9">4</tspan></text>
<text transform="translate(132.80 230.82) scale(0.9 1)" font-size="7.2" text-anchor="end" fill="#56639a" stroke="#56639a" stroke-width="0.06">10<tspan font-size="4.3" dy="-2.9">5</tspan></text>
<text transform="translate(181.92 275.10) rotate(-90) scale(0.9 1)" font-size="7.2" text-anchor="end" fill="#56639a" stroke="#56639a" stroke-width="0.06">10<tspan font-size="4.3" dy="-2.9">5</tspan></text>
<text transform="translate(132.80 220.67) scale(0.9 1)" font-size="7.2" text-anchor="end" fill="#56639a" stroke="#56639a" stroke-width="0.06">10<tspan font-size="4.3" dy="-2.9">6</tspan></text>
<text transform="translate(192.27 275.10) rotate(-90) scale(0.9 1)" font-size="7.2" text-anchor="end" fill="#56639a" stroke="#56639a" stroke-width="0.06">10<tspan font-size="4.3" dy="-2.9">6</tspan></text>
<text transform="translate(132.80 208.20) scale(0.9 1)" font-size="7.2" text-anchor="end" fill="#56639a" stroke="#56639a" stroke-width="0.06">10<tspan font-size="4.3" dy="-2.9">7.2</tspan></text>
<text transform="translate(204.40 275.10) rotate(-90) scale(0.9 1)" font-size="7.2" text-anchor="end" fill="#56639a" stroke="#56639a" stroke-width="0.06">10<tspan font-size="4.3" dy="-2.9">7.2</tspan></text>
<text transform="translate(143.4 201.1)" font-size="8.9" text-anchor="start" fill="#141414" stroke="#141414" stroke-width="0.17" textLength="51.1" lengthAdjust="spacingAndGlyphs">Ionomycin 30′</text>
<path d="M226 261h1v1h-1zM230 253h1v1h-1zM233 263h1v1h-1zM234 247h1v1h-1zM234 248h1v1h-1zM234 254h1v1h-1zM234 255h1v1h-1zM235 250h1v1h-1zM236 249h1v1h-1zM236 250h1v1h-1zM236 252h1v1h-1zM237 254h1v1h-1zM238 245h1v1h-1zM238 249h1v1h-1zM238 255h1v1h-1zM238 256h1v1h-1zM239 247h1v1h-1zM239 250h1v1h-1zM239 255h1v1h-1zM239 259h1v1h-1zM239 260h1v1h-1zM240 243h1v1h-1zM240 250h1v1h-1zM240 255h1v1h-1zM240 258h1v1h-1zM241 241h1v1h-1zM241 252h1v1h-1zM241 256h1v1h-1zM242 247h1v1h-1zM242 249h1v1h-1zM242 251h1v1h-1zM242 253h1v1h-1zM242 254h1v1h-1zM243 245h1v1h-1zM243 249h1v1h-1zM243 251h1v1h-1zM243 253h1v1h-1zM243 254h1v1h-1zM243 259h1v1h-1zM244 245h1v1h-1zM244 246h1v1h-1zM244 247h1v1h-1zM244 250h1v1h-1zM244 253h1v1h-1zM244 258h1v1h-1zM245 246h1v1h-1zM245 250h1v1h-1zM245 252h1v1h-1zM245 255h1v1h-1zM246 244h1v1h-1zM247 247h1v1h-1zM247 250h1v1h-1zM247 251h1v1h-1zM247 253h1v1h-1zM247 260h1v1h-1zM248 248h1v1h-1zM249 239h1v1h-1zM249 245h1v1h-1zM249 252h1v1h-1zM250 244h1v1h-1zM250 246h1v1h-1zM250 248h1v1h-1zM252 243h1v1h-1zM253 249h1v1h-1zM254 238h1v1h-1zM254 246h1v1h-1zM255 243h1v1h-1z" fill="#000" opacity="0.04"/>
<path d="M228 244h1v1h-1zM230 227h1v1h-1zM235 239h1v1h-1zM239 239h1v1h-1zM240 242h1v1h-1zM244 244h1v1h-1zM245 242h1v1h-1zM245 245h1v1h-1zM247 255h1v1h-1zM248 239h1v1h-1zM249 246h1v1h-1zM249 249h1v1h-1zM251 250h1v1h-1zM252 245h1v1h-1z" fill="#000" opacity="0.05"/>
<path d="M244 251h1v1h-1zM246 247h1v1h-1zM248 254h1v1h-1zM249 253h1v1h-1zM249 254h1v1h-1zM249 257h1v1h-1zM250 243h1v1h-1zM251 249h1v1h-1zM252 242h1v1h-1zM252 252h1v1h-1zM253 243h1v1h-1zM253 244h1v1h-1zM253 250h1v1h-1zM254 249h1v1h-1zM254 250h1v1h-1zM255 244h1v1h-1zM255 248h1v1h-1zM255 249h1v1h-1zM255 250h1v1h-1zM255 255h1v1h-1zM256 241h1v1h-1zM256 250h1v1h-1zM256 251h1v1h-1zM256 254h1v1h-1zM257 249h1v1h-1zM257 252h1v1h-1zM257 255h1v1h-1zM258 247h1v1h-1zM258 253h1v1h-1zM258 254h1v1h-1zM258 255h1v1h-1zM258 258h1v1h-1zM258 263h1v1h-1zM260 251h1v1h-1zM260 252h1v1h-1zM260 253h1v1h-1zM260 260h1v1h-1zM263 240h1v1h-1zM265 260h1v1h-1z" fill="#000" opacity="0.07"/>
<path d="M238 250h1v1h-1zM240 254h1v1h-1zM241 257h1v1h-1zM243 246h1v1h-1zM247 249h1v1h-1z" fill="#000" opacity="0.08"/>
<path d="M243 252h1v1h-1zM249 248h1v1h-1z" fill="#000" opacity="0.11"/>
<path d="M244 248h1v1h-1z" fill="#000" opacity="0.12"/>
<path d="M250 251h1v1h-1zM251 248h1v1h-1zM253 251h1v1h-1z" fill="#000" opacity="0.14"/>
<path d="M240 249h1v1h-1zM247 244h1v1h-1z" fill="#000" opacity="0.16"/>
<path d="M251 252h1v1h-1z" fill="#000" opacity="0.21"/>
<ellipse cx="254.0" cy="250.8" rx="12.0" ry="5.4" fill="url(#g2)" transform="rotate(-60 254.0 250.8)"/>
<ellipse cx="255.0" cy="249.0" rx="7.8" ry="4.0" fill="url(#g5)" transform="rotate(-60 255.0 249.0)"/>
<ellipse cx="255.5" cy="248.1" rx="5.2" ry="2.6" fill="url(#g1)" transform="rotate(-60 255.5 248.1)"/>
<path d="M223.2 206H287.45V270" fill="none" stroke="#8c90cc" stroke-width="0.62"/>
<path d="M223.2 206V268.9H287.45" fill="none" stroke="#8c90cc" stroke-width="0.7" opacity="0.4"/>
<line x1="247.08" y1="206.4" x2="247.08" y2="268.5" stroke="#c42a45" stroke-width="0.42"/>
<line x1="223.6" y1="242.35" x2="287.05" y2="242.35" stroke="#c42a45" stroke-width="0.5"/>
<path d="M222.20 268.90h2M222.20 265.85h2M222.20 264.06h2M222.20 262.79h2M222.20 261.81h2M222.20 261.01h2M222.20 260.33h2M222.20 259.74h2M222.20 259.22h2M222.20 258.75h2M222.20 255.70h2M222.20 253.91h2M222.20 252.65h2M222.20 251.66h2M222.20 250.86h2M222.20 250.18h2M222.20 249.59h2M222.20 249.07h2M222.20 248.61h2M222.20 245.56h2M222.20 243.77h2M222.20 242.50h2M222.20 241.52h2M222.20 240.72h2M222.20 240.04h2M222.20 239.45h2M222.20 238.93h2M222.20 238.46h2M222.20 235.41h2M222.20 233.62h2M222.20 232.36h2M222.20 231.37h2M222.20 230.57h2M222.20 229.89h2M222.20 229.30h2M222.20 228.78h2M222.20 228.32h2M222.20 225.27h2M222.20 223.48h2M222.20 222.21h2M222.20 221.23h2M222.20 220.42h2M222.20 219.75h2M222.20 219.16h2M222.20 218.64h2M222.20 218.17h2M222.20 215.12h2M222.20 213.33h2M222.20 212.07h2M222.20 211.08h2M222.20 210.28h2M222.20 209.60h2M222.20 209.01h2M222.20 208.49h2M222.20 208.03h2M223.20 268.00v1.9M226.32 268.00v1.9M228.14 268.00v1.9M229.44 268.00v1.9M230.44 268.00v1.9M231.26 268.00v1.9M231.96 268.00v1.9M232.56 268.00v1.9M233.09 268.00v1.9M233.56 268.00v1.9M236.68 268.00v1.9M238.51 268.00v1.9M239.80 268.00v1.9M240.81 268.00v1.9M241.63 268.00v1.9M242.32 268.00v1.9M242.92 268.00v1.9M243.45 268.00v1.9M243.93 268.00v1.9M247.05 268.00v1.9M248.87 268.00v1.9M250.16 268.00v1.9M251.17 268.00v1.9M251.99 268.00v1.9M252.68 268.00v1.9M253.28 268.00v1.9M253.81 268.00v1.9M254.29 268.00v1.9M257.41 268.00v1.9M259.23 268.00v1.9M260.53 268.00v1.9M261.53 268.00v1.9M262.35 268.00v1.9M263.05 268.00v1.9M263.65 268.00v1.9M264.18 268.00v1.9M264.65 268.00v1.9M267.77 268.00v1.9M269.60 268.00v1.9M270.89 268.00v1.9M271.89 268.00v1.9M272.72 268.00v1.9M273.41 268.00v1.9M274.01 268.00v1.9M274.54 268.00v1.9M275.01 268.00v1.9M278.13 268.00v1.9M279.96 268.00v1.9M281.25 268.00v1.9M282.26 268.00v1.9M283.08 268.00v1.9M283.77 268.00v1.9M284.37 268.00v1.9M284.90 268.00v1.9M285.38 268.00v1.9" fill="none" stroke="#2a2fa0" stroke-width="0.44"/>
<text transform="translate(219.20 271.40) scale(0.9 1)" font-size="7.2" text-anchor="end" fill="#56639a" stroke="#56639a" stroke-width="0.06">10<tspan font-size="4.3" dy="-2.9">1</tspan></text>
<text transform="translate(226.90 275.10) rotate(-90) scale(0.9 1)" font-size="7.2" text-anchor="end" fill="#56639a" stroke="#56639a" stroke-width="0.06">10<tspan font-size="4.3" dy="-2.9">1</tspan></text>
<text transform="translate(219.20 261.25) scale(0.9 1)" font-size="7.2" text-anchor="end" fill="#56639a" stroke="#56639a" stroke-width="0.06">10<tspan font-size="4.3" dy="-2.9">2</tspan></text>
<text transform="translate(237.26 275.10) rotate(-90) scale(0.9 1)" font-size="7.2" text-anchor="end" fill="#56639a" stroke="#56639a" stroke-width="0.06">10<tspan font-size="4.3" dy="-2.9">2</tspan></text>
<text transform="translate(219.20 251.11) scale(0.9 1)" font-size="7.2" text-anchor="end" fill="#56639a" stroke="#56639a" stroke-width="0.06">10<tspan font-size="4.3" dy="-2.9">3</tspan></text>
<text transform="translate(247.63 275.10) rotate(-90) scale(0.9 1)" font-size="7.2" text-anchor="end" fill="#56639a" stroke="#56639a" stroke-width="0.06">10<tspan font-size="4.3" dy="-2.9">3</tspan></text>
<text transform="translate(219.20 240.96) scale(0.9 1)" font-size="7.2" text-anchor="end" fill="#56639a" stroke="#56639a" stroke-width="0.06">10<tspan font-size="4.3" dy="-2.9">4</tspan></text>
<text transform="translate(257.99 275.10) rotate(-90) scale(0.9 1)" font-size="7.2" text-anchor="end" fill="#56639a" stroke="#56639a" stroke-width="0.06">10<tspan font-size="4.3" dy="-2.9">4</tspan></text>
<text transform="translate(219.20 230.82) scale(0.9 1)" font-size="7.2" text-anchor="end" fill="#56639a" stroke="#56639a" stroke-width="0.06">10<tspan font-size="4.3" dy="-2.9">5</tspan></text>
<text transform="translate(268.35 275.10) rotate(-90) scale(0.9 1)" font-size="7.2" text-anchor="end" fill="#56639a" stroke="#56639a" stroke-width="0.06">10<tspan font-size="4.3" dy="-2.9">5</tspan></text>
<text transform="translate(219.20 220.67) scale(0.9 1)" font-size="7.2" text-anchor="end" fill="#56639a" stroke="#56639a" stroke-width="0.06">10<tspan font-size="4.3" dy="-2.9">6</tspan></text>
<text transform="translate(278.71 275.10) rotate(-90) scale(0.9 1)" font-size="7.2" text-anchor="end" fill="#56639a" stroke="#56639a" stroke-width="0.06">10<tspan font-size="4.3" dy="-2.9">6</tspan></text>
<text transform="translate(219.20 208.20) scale(0.9 1)" font-size="7.2" text-anchor="end" fill="#56639a" stroke="#56639a" stroke-width="0.06">10<tspan font-size="4.3" dy="-2.9">7.2</tspan></text>
<text transform="translate(290.85 275.10) rotate(-90) scale(0.9 1)" font-size="7.2" text-anchor="end" fill="#56639a" stroke="#56639a" stroke-width="0.06">10<tspan font-size="4.3" dy="-2.9">7.2</tspan></text>
<text transform="translate(230.1 201.1)" font-size="8.9" text-anchor="start" fill="#141414" stroke="#141414" stroke-width="0.17" textLength="51.1" lengthAdjust="spacingAndGlyphs">Ionomycin 60′</text>
<path d="M62 342h1v1h-1zM64 335h1v1h-1zM64 338h1v1h-1zM64 343h1v1h-1zM64 344h1v1h-1zM65 338h1v1h-1zM66 336h1v1h-1zM66 337h1v1h-1zM66 338h1v1h-1zM66 339h1v1h-1zM66 340h1v1h-1zM67 342h1v1h-1zM68 341h1v1h-1zM69 344h1v1h-1zM70 342h1v1h-1zM71 336h1v1h-1zM71 337h1v1h-1zM72 342h1v1h-1zM73 345h1v1h-1zM74 338h1v1h-1zM74 344h1v1h-1zM76 342h1v1h-1zM77 337h1v1h-1zM77 342h1v1h-1zM77 345h1v1h-1zM77 348h1v1h-1zM78 344h1v1h-1zM79 340h1v1h-1zM79 346h1v1h-1zM79 348h1v1h-1zM80 335h1v1h-1zM80 340h1v1h-1zM80 344h1v1h-1zM80 346h1v1h-1zM80 351h1v1h-1zM81 338h1v1h-1zM81 339h1v1h-1zM81 341h1v1h-1zM81 343h1v1h-1zM81 351h1v1h-1zM82 342h1v1h-1zM82 348h1v1h-1zM83 341h1v1h-1zM83 342h1v1h-1zM85 339h1v1h-1zM85 343h1v1h-1zM85 344h1v1h-1zM85 346h1v1h-1zM86 341h1v1h-1zM86 343h1v1h-1zM86 345h1v1h-1zM86 349h1v1h-1zM88 343h1v1h-1zM88 345h1v1h-1z" fill="#000" opacity="0.04"/>
<path d="M52 333h1v1h-1zM55 334h1v1h-1zM56 325h1v1h-1zM56 331h1v1h-1zM56 333h1v1h-1zM57 327h1v1h-1zM57 331h1v1h-1zM58 323h1v1h-1zM58 324h1v1h-1zM58 331h1v1h-1zM58 332h1v1h-1zM59 326h1v1h-1zM59 331h1v1h-1zM59 334h1v1h-1zM60 331h1v1h-1zM60 336h1v1h-1zM61 325h1v1h-1zM61 327h1v1h-1zM61 332h1v1h-1zM62 321h1v1h-1zM62 325h1v1h-1zM62 329h1v1h-1zM62 331h1v1h-1zM62 332h1v1h-1zM63 327h1v1h-1zM63 331h1v1h-1zM64 328h1v1h-1zM65 329h1v1h-1zM66 326h1v1h-1zM66 329h1v1h-1zM66 331h1v1h-1zM67 327h1v1h-1zM67 330h1v1h-1zM67 334h1v1h-1zM68 328h1v1h-1zM68 329h1v1h-1zM68 332h1v1h-1zM70 332h1v1h-1zM71 328h1v1h-1z" fill="#000" opacity="0.07"/>
<path d="M69 341h1v1h-1zM74 343h1v1h-1zM77 340h1v1h-1zM80 339h1v1h-1zM80 345h1v1h-1z" fill="#000" opacity="0.08"/>
<path d="M57 329h1v1h-1zM63 328h1v1h-1zM63 330h1v1h-1zM64 332h1v1h-1z" fill="#000" opacity="0.14"/>
<ellipse cx="63.0" cy="328.8" rx="11.5" ry="6.8" fill="url(#g2)" transform="rotate(0 63.0 328.8)"/>
<ellipse cx="66.4" cy="329.0" rx="6.6" ry="5.0" fill="url(#g5)" transform="rotate(0 66.4 329.0)"/>
<ellipse cx="68.5" cy="329.0" rx="3.9" ry="3.4" fill="url(#g1)" transform="rotate(0 68.5 329.0)"/>
<path d="M50 292.25H114.15V356.25" fill="none" stroke="#8c90cc" stroke-width="0.62"/>
<path d="M50 292.25V355.15H114.15" fill="none" stroke="#8c90cc" stroke-width="0.7" opacity="0.4"/>
<line x1="73.47" y1="292.65" x2="73.47" y2="354.75" stroke="#c42a45" stroke-width="0.72"/>
<line x1="50.4" y1="335.27" x2="113.75" y2="335.27" stroke="#c42a45" stroke-width="0.5"/>
<path d="M49.00 355.15h2M49.00 352.10h2M49.00 350.31h2M49.00 349.04h2M49.00 348.06h2M49.00 347.26h2M49.00 346.58h2M49.00 345.99h2M49.00 345.47h2M49.00 345.00h2M49.00 341.95h2M49.00 340.16h2M49.00 338.90h2M49.00 337.91h2M49.00 337.11h2M49.00 336.43h2M49.00 335.84h2M49.00 335.32h2M49.00 334.86h2M49.00 331.81h2M49.00 330.02h2M49.00 328.75h2M49.00 327.77h2M49.00 326.97h2M49.00 326.29h2M49.00 325.70h2M49.00 325.18h2M49.00 324.71h2M49.00 321.66h2M49.00 319.87h2M49.00 318.61h2M49.00 317.62h2M49.00 316.82h2M49.00 316.14h2M49.00 315.55h2M49.00 315.03h2M49.00 314.57h2M49.00 311.52h2M49.00 309.73h2M49.00 308.46h2M49.00 307.48h2M49.00 306.67h2M49.00 306.00h2M49.00 305.41h2M49.00 304.89h2M49.00 304.42h2M49.00 301.37h2M49.00 299.58h2M49.00 298.32h2M49.00 297.33h2M49.00 296.53h2M49.00 295.85h2M49.00 295.26h2M49.00 294.74h2M49.00 294.28h2M50.00 354.25v1.9M53.11 354.25v1.9M54.94 354.25v1.9M56.23 354.25v1.9M57.23 354.25v1.9M58.05 354.25v1.9M58.74 354.25v1.9M59.34 354.25v1.9M59.87 354.25v1.9M60.35 354.25v1.9M63.46 354.25v1.9M65.28 354.25v1.9M66.58 354.25v1.9M67.58 354.25v1.9M68.40 354.25v1.9M69.09 354.25v1.9M69.69 354.25v1.9M70.22 354.25v1.9M70.69 354.25v1.9M73.81 354.25v1.9M75.63 354.25v1.9M76.92 354.25v1.9M77.93 354.25v1.9M78.74 354.25v1.9M79.44 354.25v1.9M80.04 354.25v1.9M80.57 354.25v1.9M81.04 354.25v1.9M84.16 354.25v1.9M85.98 354.25v1.9M87.27 354.25v1.9M88.27 354.25v1.9M89.09 354.25v1.9M89.78 354.25v1.9M90.38 354.25v1.9M90.91 354.25v1.9M91.39 354.25v1.9M94.50 354.25v1.9M96.32 354.25v1.9M97.62 354.25v1.9M98.62 354.25v1.9M99.44 354.25v1.9M100.13 354.25v1.9M100.73 354.25v1.9M101.26 354.25v1.9M101.73 354.25v1.9M104.85 354.25v1.9M106.67 354.25v1.9M107.96 354.25v1.9M108.97 354.25v1.9M109.79 354.25v1.9M110.48 354.25v1.9M111.08 354.25v1.9M111.61 354.25v1.9M112.08 354.25v1.9" fill="none" stroke="#2a2fa0" stroke-width="0.44"/>
<text transform="translate(46.00 357.65) scale(0.9 1)" font-size="7.2" text-anchor="end" fill="#56639a" stroke="#56639a" stroke-width="0.06">10<tspan font-size="4.3" dy="-2.9">1</tspan></text>
<text transform="translate(53.70 361.35) rotate(-90) scale(0.9 1)" font-size="7.2" text-anchor="end" fill="#56639a" stroke="#56639a" stroke-width="0.06">10<tspan font-size="4.3" dy="-2.9">1</tspan></text>
<text transform="translate(46.00 347.50) scale(0.9 1)" font-size="7.2" text-anchor="end" fill="#56639a" stroke="#56639a" stroke-width="0.06">10<tspan font-size="4.3" dy="-2.9">2</tspan></text>
<text transform="translate(64.05 361.35) rotate(-90) scale(0.9 1)" font-size="7.2" text-anchor="end" fill="#56639a" stroke="#56639a" stroke-width="0.06">10<tspan font-size="4.3" dy="-2.9">2</tspan></text>
<text transform="translate(46.00 337.36) scale(0.9 1)" font-size="7.2" text-anchor="end" fill="#56639a" stroke="#56639a" stroke-width="0.06">10<tspan font-size="4.3" dy="-2.9">3</tspan></text>
<text transform="translate(74.39 361.35) rotate(-90) scale(0.9 1)" font-size="7.2" text-anchor="end" fill="#56639a" stroke="#56639a" stroke-width="0.06">10<tspan font-size="4.3" dy="-2.9">3</tspan></text>
<text transform="translate(46.00 327.21) scale(0.9 1)" font-size="7.2" text-anchor="end" fill="#56639a" stroke="#56639a" stroke-width="0.06">10<tspan font-size="4.3" dy="-2.9">4</tspan></text>
<text transform="translate(84.74 361.35) rotate(-90) scale(0.9 1)" font-size="7.2" text-anchor="end" fill="#56639a" stroke="#56639a" stroke-width="0.06">10<tspan font-size="4.3" dy="-2.9">4</tspan></text>
<text transform="translate(46.00 317.07) scale(0.9 1)" font-size="7.2" text-anchor="end" fill="#56639a" stroke="#56639a" stroke-width="0.06">10<tspan font-size="4.3" dy="-2.9">5</tspan></text>
<text transform="translate(95.09 361.35) rotate(-90) scale(0.9 1)" font-size="7.2" text-anchor="end" fill="#56639a" stroke="#56639a" stroke-width="0.06">10<tspan font-size="4.3" dy="-2.9">5</tspan></text>
<text transform="translate(46.00 306.92) scale(0.9 1)" font-size="7.2" text-anchor="end" fill="#56639a" stroke="#56639a" stroke-width="0.06">10<tspan font-size="4.3" dy="-2.9">6</tspan></text>
<text transform="translate(105.43 361.35) rotate(-90) scale(0.9 1)" font-size="7.2" text-anchor="end" fill="#56639a" stroke="#56639a" stroke-width="0.06">10<tspan font-size="4.3" dy="-2.9">6</tspan></text>
<text transform="translate(46.00 294.45) scale(0.9 1)" font-size="7.2" text-anchor="end" fill="#56639a" stroke="#56639a" stroke-width="0.06">10<tspan font-size="4.3" dy="-2.9">7.2</tspan></text>
<text transform="translate(117.55 361.35) rotate(-90) scale(0.9 1)" font-size="7.2" text-anchor="end" fill="#56639a" stroke="#56639a" stroke-width="0.06">10<tspan font-size="4.3" dy="-2.9">7.2</tspan></text>
<text transform="translate(48.1 384.85)" font-size="9.0" text-anchor="start" fill="#141414" stroke="#141414" stroke-width="0.17" textLength="67.3" lengthAdjust="spacingAndGlyphs">AF647-annexin A5</text>
<text transform="translate(27.7 327.5) rotate(-90)" font-size="8.7" text-anchor="middle" fill="#141414" stroke="#141414" stroke-width="0.17" textLength="37.1" lengthAdjust="spacingAndGlyphs">PE- α GPVI</text>
<path d="M138 342h1v1h-1zM144 341h1v1h-1zM145 340h1v1h-1zM145 342h1v1h-1zM145 344h1v1h-1zM145 345h1v1h-1zM147 337h1v1h-1zM147 343h1v1h-1zM149 340h1v1h-1zM149 341h1v1h-1zM149 343h1v1h-1zM149 345h1v1h-1zM150 337h1v1h-1zM150 339h1v1h-1zM151 339h1v1h-1zM151 342h1v1h-1zM153 338h1v1h-1zM153 340h1v1h-1zM154 338h1v1h-1zM154 345h1v1h-1zM155 339h1v1h-1zM155 343h1v1h-1zM155 345h1v1h-1zM156 341h1v1h-1zM156 345h1v1h-1zM157 339h1v1h-1zM157 344h1v1h-1zM157 346h1v1h-1zM158 341h1v1h-1zM158 343h1v1h-1zM161 342h1v1h-1zM162 346h1v1h-1z" fill="#000" opacity="0.04"/>
<path d="M158 351h1v1h-1zM159 343h1v1h-1zM159 349h1v1h-1zM160 343h1v1h-1zM161 340h1v1h-1zM161 348h1v1h-1zM161 349h1v1h-1zM161 350h1v1h-1zM162 336h1v1h-1zM162 345h1v1h-1zM163 337h1v1h-1zM163 340h1v1h-1zM163 346h1v1h-1zM163 351h1v1h-1zM164 341h1v1h-1zM164 344h1v1h-1zM164 347h1v1h-1zM164 348h1v1h-1zM164 349h1v1h-1zM165 342h1v1h-1zM165 344h1v1h-1zM165 345h1v1h-1zM165 347h1v1h-1zM165 348h1v1h-1zM165 350h1v1h-1zM166 344h1v1h-1zM166 346h1v1h-1zM166 349h1v1h-1zM166 350h1v1h-1zM167 348h1v1h-1zM168 336h1v1h-1zM168 341h1v1h-1zM168 342h1v1h-1zM168 345h1v1h-1zM168 347h1v1h-1zM168 353h1v1h-1zM169 338h1v1h-1zM170 337h1v1h-1zM171 343h1v1h-1zM171 345h1v1h-1zM171 351h1v1h-1zM171 352h1v1h-1zM173 345h1v1h-1zM174 341h1v1h-1zM174 345h1v1h-1zM174 348h1v1h-1zM176 346h1v1h-1z" fill="#000" opacity="0.07"/>
<path d="M148 340h1v1h-1zM156 343h1v1h-1z" fill="#000" opacity="0.08"/>
<path d="M161 346h1v1h-1zM164 346h1v1h-1zM168 352h1v1h-1zM172 340h1v1h-1z" fill="#000" opacity="0.14"/>
<ellipse cx="166.8" cy="344.0" rx="7.8" ry="9.8" fill="url(#g2)" transform="rotate(0 166.8 344.0)"/>
<ellipse cx="166.8" cy="342.6" rx="7.0" ry="7.3" fill="url(#g5)" transform="rotate(0 166.8 342.6)"/>
<ellipse cx="166.6" cy="341.2" rx="4.5" ry="3.6" fill="url(#g1)" transform="rotate(0 166.6 341.2)"/>
<path d="M136.8 292.25H201V356.25" fill="none" stroke="#8c90cc" stroke-width="0.62"/>
<path d="M136.8 292.25V355.15H201" fill="none" stroke="#8c90cc" stroke-width="0.7" opacity="0.4"/>
<line x1="160.36" y1="292.65" x2="160.36" y2="354.75" stroke="#c42a45" stroke-width="0.7"/>
<line x1="137.2" y1="335.27" x2="200.6" y2="335.27" stroke="#c42a45" stroke-width="0.5"/>
<path d="M135.80 355.15h2M135.80 352.10h2M135.80 350.31h2M135.80 349.04h2M135.80 348.06h2M135.80 347.26h2M135.80 346.58h2M135.80 345.99h2M135.80 345.47h2M135.80 345.00h2M135.80 341.95h2M135.80 340.16h2M135.80 338.90h2M135.80 337.91h2M135.80 337.11h2M135.80 336.43h2M135.80 335.84h2M135.80 335.32h2M135.80 334.86h2M135.80 331.81h2M135.80 330.02h2M135.80 328.75h2M135.80 327.77h2M135.80 326.97h2M135.80 326.29h2M135.80 325.70h2M135.80 325.18h2M135.80 324.71h2M135.80 321.66h2M135.80 319.87h2M135.80 318.61h2M135.80 317.62h2M135.80 316.82h2M135.80 316.14h2M135.80 315.55h2M135.80 315.03h2M135.80 314.57h2M135.80 311.52h2M135.80 309.73h2M135.80 308.46h2M135.80 307.48h2M135.80 306.67h2M135.80 306.00h2M135.80 305.41h2M135.80 304.89h2M135.80 304.42h2M135.80 301.37h2M135.80 299.58h2M135.80 298.32h2M135.80 297.33h2M135.80 296.53h2M135.80 295.85h2M135.80 295.26h2M135.80 294.74h2M135.80 294.28h2M136.80 354.25v1.9M139.92 354.25v1.9M141.74 354.25v1.9M143.03 354.25v1.9M144.04 354.25v1.9M144.86 354.25v1.9M145.55 354.25v1.9M146.15 354.25v1.9M146.68 354.25v1.9M147.15 354.25v1.9M150.27 354.25v1.9M152.10 354.25v1.9M153.39 354.25v1.9M154.39 354.25v1.9M155.21 354.25v1.9M155.91 354.25v1.9M156.51 354.25v1.9M157.04 354.25v1.9M157.51 354.25v1.9M160.63 354.25v1.9M162.45 354.25v1.9M163.74 354.25v1.9M164.75 354.25v1.9M165.57 354.25v1.9M166.26 354.25v1.9M166.86 354.25v1.9M167.39 354.25v1.9M167.86 354.25v1.9M170.98 354.25v1.9M172.81 354.25v1.9M174.10 354.25v1.9M175.10 354.25v1.9M175.92 354.25v1.9M176.62 354.25v1.9M177.22 354.25v1.9M177.75 354.25v1.9M178.22 354.25v1.9M181.34 354.25v1.9M183.16 354.25v1.9M184.45 354.25v1.9M185.46 354.25v1.9M186.28 354.25v1.9M186.97 354.25v1.9M187.57 354.25v1.9M188.10 354.25v1.9M188.57 354.25v1.9M191.69 354.25v1.9M193.51 354.25v1.9M194.81 354.25v1.9M195.81 354.25v1.9M196.63 354.25v1.9M197.33 354.25v1.9M197.93 354.25v1.9M198.46 354.25v1.9M198.93 354.25v1.9" fill="none" stroke="#2a2fa0" stroke-width="0.44"/>
<text transform="translate(132.80 357.65) scale(0.9 1)" font-size="7.2" text-anchor="end" fill="#56639a" stroke="#56639a" stroke-width="0.06">10<tspan font-size="4.3" dy="-2.9">1</tspan></text>
<text transform="translate(140.50 361.35) rotate(-90) scale(0.9 1)" font-size="7.2" text-anchor="end" fill="#56639a" stroke="#56639a" stroke-width="0.06">10<tspan font-size="4.3" dy="-2.9">1</tspan></text>
<text transform="translate(132.80 347.50) scale(0.9 1)" font-size="7.2" text-anchor="end" fill="#56639a" stroke="#56639a" stroke-width="0.06">10<tspan font-size="4.3" dy="-2.9">2</tspan></text>
<text transform="translate(150.85 361.35) rotate(-90) scale(0.9 1)" font-size="7.2" text-anchor="end" fill="#56639a" stroke="#56639a" stroke-width="0.06">10<tspan font-size="4.3" dy="-2.9">2</tspan></text>
<text transform="translate(132.80 337.36) scale(0.9 1)" font-size="7.2" text-anchor="end" fill="#56639a" stroke="#56639a" stroke-width="0.06">10<tspan font-size="4.3" dy="-2.9">3</tspan></text>
<text transform="translate(161.21 361.35) rotate(-90) scale(0.9 1)" font-size="7.2" text-anchor="end" fill="#56639a" stroke="#56639a" stroke-width="0.06">10<tspan font-size="4.3" dy="-2.9">3</tspan></text>
<text transform="translate(132.80 327.21) scale(0.9 1)" font-size="7.2" text-anchor="end" fill="#56639a" stroke="#56639a" stroke-width="0.06">10<tspan font-size="4.3" dy="-2.9">4</tspan></text>
<text transform="translate(171.56 361.35) rotate(-90) scale(0.9 1)" font-size="7.2" text-anchor="end" fill="#56639a" stroke="#56639a" stroke-width="0.06">10<tspan font-size="4.3" dy="-2.9">4</tspan></text>
<text transform="translate(132.80 317.07) scale(0.9 1)" font-size="7.2" text-anchor="end" fill="#56639a" stroke="#56639a" stroke-width="0.06">10<tspan font-size="4.3" dy="-2.9">5</tspan></text>
<text transform="translate(181.92 361.35) rotate(-90) scale(0.9 1)" font-size="7.2" text-anchor="end" fill="#56639a" stroke="#56639a" stroke-width="0.06">10<tspan font-size="4.3" dy="-2.9">5</tspan></text>
<text transform="translate(132.80 306.92) scale(0.9 1)" font-size="7.2" text-anchor="end" fill="#56639a" stroke="#56639a" stroke-width="0.06">10<tspan font-size="4.3" dy="-2.9">6</tspan></text>
<text transform="translate(192.27 361.35) rotate(-90) scale(0.9 1)" font-size="7.2" text-anchor="end" fill="#56639a" stroke="#56639a" stroke-width="0.06">10<tspan font-size="4.3" dy="-2.9">6</tspan></text>
<text transform="translate(132.80 294.45) scale(0.9 1)" font-size="7.2" text-anchor="end" fill="#56639a" stroke="#56639a" stroke-width="0.06">10<tspan font-size="4.3" dy="-2.9">7.2</tspan></text>
<text transform="translate(204.40 361.35) rotate(-90) scale(0.9 1)" font-size="7.2" text-anchor="end" fill="#56639a" stroke="#56639a" stroke-width="0.06">10<tspan font-size="4.3" dy="-2.9">7.2</tspan></text>
<text transform="translate(135 384.85)" font-size="9.0" text-anchor="start" fill="#141414" stroke="#141414" stroke-width="0.17" textLength="67.1" lengthAdjust="spacingAndGlyphs">AF647-annexin A5</text>
<path d="M229 345h1v1h-1zM232 340h1v1h-1zM233 344h1v1h-1zM234 339h1v1h-1zM236 342h1v1h-1zM236 345h1v1h-1zM236 347h1v1h-1zM236 351h1v1h-1zM237 338h1v1h-1zM237 340h1v1h-1zM237 345h1v1h-1zM238 344h1v1h-1zM238 348h1v1h-1zM239 341h1v1h-1zM239 343h1v1h-1zM239 346h1v1h-1zM239 349h1v1h-1zM240 340h1v1h-1zM240 343h1v1h-1zM241 343h1v1h-1zM241 346h1v1h-1zM242 344h1v1h-1zM242 346h1v1h-1zM242 349h1v1h-1zM243 337h1v1h-1zM243 345h1v1h-1zM244 339h1v1h-1zM244 345h1v1h-1zM245 342h1v1h-1zM245 343h1v1h-1zM245 345h1v1h-1zM245 346h1v1h-1zM246 342h1v1h-1zM246 343h1v1h-1zM246 345h1v1h-1zM246 347h1v1h-1zM247 346h1v1h-1zM248 345h1v1h-1zM248 346h1v1h-1z" fill="#000" opacity="0.04"/>
<path d="M240 348h1v1h-1zM241 348h1v1h-1zM243 339h1v1h-1zM243 350h1v1h-1zM244 338h1v1h-1zM244 342h1v1h-1zM245 348h1v1h-1zM246 346h1v1h-1zM246 351h1v1h-1zM247 339h1v1h-1zM247 340h1v1h-1zM247 348h1v1h-1zM247 351h1v1h-1zM248 334h1v1h-1zM248 342h1v1h-1zM248 349h1v1h-1zM248 351h1v1h-1zM249 341h1v1h-1zM249 346h1v1h-1zM249 352h1v1h-1zM250 335h1v1h-1zM250 353h1v1h-1zM251 334h1v1h-1zM251 345h1v1h-1zM252 341h1v1h-1zM252 345h1v1h-1zM252 347h1v1h-1zM253 341h1v1h-1zM253 343h1v1h-1zM253 344h1v1h-1zM253 347h1v1h-1zM253 352h1v1h-1zM254 339h1v1h-1zM254 341h1v1h-1zM254 342h1v1h-1zM254 343h1v1h-1zM255 339h1v1h-1zM255 341h1v1h-1zM255 344h1v1h-1zM255 346h1v1h-1zM257 335h1v1h-1zM257 340h1v1h-1zM257 343h1v1h-1zM257 345h1v1h-1zM257 353h1v1h-1zM258 334h1v1h-1zM258 341h1v1h-1zM258 345h1v1h-1zM259 332h1v1h-1zM259 337h1v1h-1zM259 350h1v1h-1zM259 353h1v1h-1zM261 346h1v1h-1zM261 350h1v1h-1zM262 348h1v1h-1zM262 351h1v1h-1zM263 344h1v1h-1zM263 348h1v1h-1zM267 351h1v1h-1zM269 349h1v1h-1z" fill="#000" opacity="0.07"/>
<path d="M236 340h1v1h-1zM239 342h1v1h-1zM243 342h1v1h-1z" fill="#000" opacity="0.08"/>
<path d="M243 341h1v1h-1z" fill="#000" opacity="0.11"/>
<path d="M239 348h1v1h-1z" fill="#000" opacity="0.12"/>
<path d="M248 350h1v1h-1zM249 342h1v1h-1zM254 346h1v1h-1zM254 348h1v1h-1zM262 342h1v1h-1z" fill="#000" opacity="0.14"/>
<path d="M249 343h1v1h-1z" fill="#000" opacity="0.21"/>
<ellipse cx="253.4" cy="344.0" rx="10.4" ry="9.8" fill="url(#g2)" transform="rotate(0 253.4 344.0)"/>
<ellipse cx="253.2" cy="342.6" rx="8.8" ry="7.3" fill="url(#g5)" transform="rotate(0 253.2 342.6)"/>
<ellipse cx="252.8" cy="341.2" rx="5.3" ry="3.8" fill="url(#g1)" transform="rotate(0 252.8 341.2)"/>
<path d="M223.2 292.25H287.45V356.25" fill="none" stroke="#8c90cc" stroke-width="0.62"/>
<path d="M223.2 292.25V355.15H287.45" fill="none" stroke="#8c90cc" stroke-width="0.7" opacity="0.4"/>
<line x1="246.97" y1="292.65" x2="246.97" y2="354.75" stroke="#c42a45" stroke-width="0.5"/>
<line x1="223.6" y1="335.27" x2="287.05" y2="335.27" stroke="#c42a45" stroke-width="0.5"/>
<path d="M222.20 355.15h2M222.20 352.10h2M222.20 350.31h2M222.20 349.04h2M222.20 348.06h2M222.20 347.26h2M222.20 346.58h2M222.20 345.99h2M222.20 345.47h2M222.20 345.00h2M222.20 341.95h2M222.20 340.16h2M222.20 338.90h2M222.20 337.91h2M222.20 337.11h2M222.20 336.43h2M222.20 335.84h2M222.20 335.32h2M222.20 334.86h2M222.20 331.81h2M222.20 330.02h2M222.20 328.75h2M222.20 327.77h2M222.20 326.97h2M222.20 326.29h2M222.20 325.70h2M222.20 325.18h2M222.20 324.71h2M222.20 321.66h2M222.20 319.87h2M222.20 318.61h2M222.20 317.62h2M222.20 316.82h2M222.20 316.14h2M222.20 315.55h2M222.20 315.03h2M222.20 314.57h2M222.20 311.52h2M222.20 309.73h2M222.20 308.46h2M222.20 307.48h2M222.20 306.67h2M222.20 306.00h2M222.20 305.41h2M222.20 304.89h2M222.20 304.42h2M222.20 301.37h2M222.20 299.58h2M222.20 298.32h2M222.20 297.33h2M222.20 296.53h2M222.20 295.85h2M222.20 295.26h2M222.20 294.74h2M222.20 294.28h2M223.20 354.25v1.9M226.32 354.25v1.9M228.14 354.25v1.9M229.44 354.25v1.9M230.44 354.25v1.9M231.26 354.25v1.9M231.96 354.25v1.9M232.56 354.25v1.9M233.09 354.25v1.9M233.56 354.25v1.9M236.68 354.25v1.9M238.51 354.25v1.9M239.80 354.25v1.9M240.81 354.25v1.9M241.63 354.25v1.9M242.32 354.25v1.9M242.92 354.25v1.9M243.45 354.25v1.9M243.93 354.25v1.9M247.05 354.25v1.9M248.87 354.25v1.9M250.16 354.25v1.9M251.17 354.25v1.9M251.99 354.25v1.9M252.68 354.25v1.9M253.28 354.25v1.9M253.81 354.25v1.9M254.29 354.25v1.9M257.41 354.25v1.9M259.23 354.25v1.9M260.53 354.25v1.9M261.53 354.25v1.9M262.35 354.25v1.9M263.05 354.25v1.9M263.65 354.25v1.9M264.18 354.25v1.9M264.65 354.25v1.9M267.77 354.25v1.9M269.60 354.25v1.9M270.89 354.25v1.9M271.89 354.25v1.9M272.72 354.25v1.9M273.41 354.25v1.9M274.01 354.25v1.9M274.54 354.25v1.9M275.01 354.25v1.9M278.13 354.25v1.9M279.96 354.25v1.9M281.25 354.25v1.9M282.26 354.25v1.9M283.08 354.25v1.9M283.77 354.25v1.9M284.37 354.25v1.9M284.90 354.25v1.9M285.38 354.25v1.9" fill="none" stroke="#2a2fa0" stroke-width="0.44"/>
<text transform="translate(219.20 357.65) scale(0.9 1)" font-size="7.2" text-anchor="end" fill="#56639a" stroke="#56639a" stroke-width="0.06">10<tspan font-size="4.3" dy="-2.9">1</tspan></text>
<text transform="translate(226.90 361.35) rotate(-90) scale(0.9 1)" font-size="7.2" text-anchor="end" fill="#56639a" stroke="#56639a" stroke-width="0.06">10<tspan font-size="4.3" dy="-2.9">1</tspan></text>
<text transform="translate(219.20 347.50) scale(0.9 1)" font-size="7.2" text-anchor="end" fill="#56639a" stroke="#56639a" stroke-width="0.06">10<tspan font-size="4.3" dy="-2.9">2</tspan></text>
<text transform="translate(237.26 361.35) rotate(-90) scale(0.9 1)" font-size="7.2" text-anchor="end" fill="#56639a" stroke="#56639a" stroke-width="0.06">10<tspan font-size="4.3" dy="-2.9">2</tspan></text>
<text transform="translate(219.20 337.36) scale(0.9 1)" font-size="7.2" text-anchor="end" fill="#56639a" stroke="#56639a" stroke-width="0.06">10<tspan font-size="4.3" dy="-2.9">3</tspan></text>
<text transform="translate(247.63 361.35) rotate(-90) scale(0.9 1)" font-size="7.2" text-anchor="end" fill="#56639a" stroke="#56639a" stroke-width="0.06">10<tspan font-size="4.3" dy="-2.9">3</tspan></text>
<text transform="translate(219.20 327.21) scale(0.9 1)" font-size="7.2" text-anchor="end" fill="#56639a" stroke="#56639a" stroke-width="0.06">10<tspan font-size="4.3" dy="-2.9">4</tspan></text>
<text transform="translate(257.99 361.35) rotate(-90) scale(0.9 1)" font-size="7.2" text-anchor="end" fill="#56639a" stroke="#56639a" stroke-width="0.06">10<tspan font-size="4.3" dy="-2.9">4</tspan></text>
<text transform="translate(219.20 317.07) scale(0.9 1)" font-size="7.2" text-anchor="end" fill="#56639a" stroke="#56639a" stroke-width="0.06">10<tspan font-size="4.3" dy="-2.9">5</tspan></text>
<text transform="translate(268.35 361.35) rotate(-90) scale(0.9 1)" font-size="7.2" text-anchor="end" fill="#56639a" stroke="#56639a" stroke-width="0.06">10<tspan font-size="4.3" dy="-2.9">5</tspan></text>
<text transform="translate(219.20 306.92) scale(0.9 1)" font-size="7.2" text-anchor="end" fill="#56639a" stroke="#56639a" stroke-width="0.06">10<tspan font-size="4.3" dy="-2.9">6</tspan></text>
<text transform="translate(278.71 361.35) rotate(-90) scale(0.9 1)" font-size="7.2" text-anchor="end" fill="#56639a" stroke="#56639a" stroke-width="0.06">10<tspan font-size="4.3" dy="-2.9">6</tspan></text>
<text transform="translate(219.20 294.45) scale(0.9 1)" font-size="7.2" text-anchor="end" fill="#56639a" stroke="#56639a" stroke-width="0.06">10<tspan font-size="4.3" dy="-2.9">7.2</tspan></text>
<text transform="translate(290.85 361.35) rotate(-90) scale(0.9 1)" font-size="7.2" text-anchor="end" fill="#56639a" stroke="#56639a" stroke-width="0.06">10<tspan font-size="4.3" dy="-2.9">7.2</tspan></text>
<text transform="translate(221.9 384.85)" font-size="9.0" text-anchor="start" fill="#141414" stroke="#141414" stroke-width="0.17" textLength="66.6" lengthAdjust="spacingAndGlyphs">AF647-annexin A5</text>
<text transform="translate(306.2 175.8)" font-size="11.9" text-anchor="start" fill="#141414" stroke="#141414" stroke-width="0.25" textLength="8" lengthAdjust="spacingAndGlyphs">D</text>
<rect x="357.60" y="197.92" width="19.40" height="69.38" fill="#8e94bd"/>
<rect x="357.60" y="197.22" width="19.40" height="0.70" fill="#c0394f"/>
<rect x="362.20" y="196.30" width="10.00" height="1.84" fill="#0a0a0a"/>
<line x1="367.2" y1="267.3" x2="367.2" y2="270.5" stroke="#0a0a0a" stroke-width="1.0"/>
<text transform="translate(361.8 279)" font-size="8.7" text-anchor="start" fill="#141414" stroke="#141414" stroke-width="0.16" textLength="10.3" lengthAdjust="spacingAndGlyphs">ctrl</text>
<rect x="386.50" y="256.65" width="19.20" height="10.65" fill="#2b4a80"/>
<rect x="386.50" y="256.37" width="19.20" height="0.28" fill="#d98c7e"/>
<rect x="386.50" y="197.22" width="19.20" height="59.15" fill="#a50026"/>
<line x1="396" y1="190.21" x2="396" y2="197.22" stroke="#0a0a0a" stroke-width="1.1"/>
<line x1="391.3" y1="190.21" x2="400.7" y2="190.21" stroke="#0a0a0a" stroke-width="1.1"/>
<line x1="396" y1="249.57" x2="396" y2="255.95" stroke="#0a0a0a" stroke-width="1.1"/>
<line x1="391.3" y1="249.57" x2="400.7" y2="249.57" stroke="#0a0a0a" stroke-width="1.1"/>
<line x1="391.3" y1="255.95" x2="400.7" y2="255.95" stroke="#0a0a0a" stroke-width="1.1"/>
<line x1="396" y1="267.3" x2="396" y2="270.5" stroke="#0a0a0a" stroke-width="1.0"/>
<text transform="translate(392.2 279)" font-size="8.7" text-anchor="start" fill="#141414" stroke="#141414" stroke-width="0.16" textLength="8" lengthAdjust="spacingAndGlyphs">30</text>
<rect x="415.50" y="265.48" width="19.30" height="1.82" fill="#2b4a80"/>
<rect x="415.50" y="265.20" width="19.30" height="0.28" fill="#d98c7e"/>
<rect x="415.50" y="197.22" width="19.30" height="67.98" fill="#a50026"/>
<line x1="425.1" y1="195.47" x2="425.1" y2="197.22" stroke="#0a0a0a" stroke-width="1.1"/>
<line x1="420.4" y1="195.47" x2="429.8" y2="195.47" stroke="#0a0a0a" stroke-width="1.1"/>
<rect x="420.60" y="264.00" width="9.00" height="1.84" fill="#0a0a0a"/>
<line x1="425.1" y1="267.3" x2="425.1" y2="270.5" stroke="#0a0a0a" stroke-width="1.0"/>
<text transform="translate(421.3 279)" font-size="8.7" text-anchor="start" fill="#141414" stroke="#141414" stroke-width="0.16" textLength="8" lengthAdjust="spacingAndGlyphs">60</text>
<line x1="352.8" y1="180.3" x2="352.8" y2="268" stroke="#0a0a0a" stroke-width="1.4"/>
<line x1="352.1" y1="267.3" x2="440.2" y2="267.3" stroke="#0a0a0a" stroke-width="1.4"/>
<line x1="348.6" y1="267.3" x2="352.8" y2="267.3" stroke="#0a0a0a" stroke-width="1.0"/>
<text transform="translate(346.5 270.1)" font-size="8.2" text-anchor="end" fill="#141414" stroke="#141414" stroke-width="0.2" textLength="4" lengthAdjust="spacingAndGlyphs">0</text>
<line x1="348.6" y1="253.28" x2="352.8" y2="253.28" stroke="#0a0a0a" stroke-width="1.0"/>
<text transform="translate(346.5 256.08)" font-size="8.2" text-anchor="end" fill="#141414" stroke="#141414" stroke-width="0.2" textLength="8" lengthAdjust="spacingAndGlyphs">20</text>
<line x1="348.6" y1="239.27" x2="352.8" y2="239.27" stroke="#0a0a0a" stroke-width="1.0"/>
<text transform="translate(346.5 242.07)" font-size="8.2" text-anchor="end" fill="#141414" stroke="#141414" stroke-width="0.2" textLength="8" lengthAdjust="spacingAndGlyphs">40</text>
<line x1="348.6" y1="225.25" x2="352.8" y2="225.25" stroke="#0a0a0a" stroke-width="1.0"/>
<text transform="translate(346.5 228.05)" font-size="8.2" text-anchor="end" fill="#141414" stroke="#141414" stroke-width="0.2" textLength="8" lengthAdjust="spacingAndGlyphs">60</text>
<line x1="348.6" y1="211.24" x2="352.8" y2="211.24" stroke="#0a0a0a" stroke-width="1.0"/>
<text transform="translate(346.5 214.04)" font-size="8.2" text-anchor="end" fill="#141414" stroke="#141414" stroke-width="0.2" textLength="8" lengthAdjust="spacingAndGlyphs">80</text>
<line x1="348.6" y1="197.22" x2="352.8" y2="197.22" stroke="#0a0a0a" stroke-width="1.0"/>
<text transform="translate(346.5 200.02)" font-size="8.2" text-anchor="end" fill="#141414" stroke="#141414" stroke-width="0.2" textLength="12" lengthAdjust="spacingAndGlyphs">100</text>
<line x1="348.6" y1="183.2" x2="352.8" y2="183.2" stroke="#0a0a0a" stroke-width="1.0"/>
<text transform="translate(346.5 186)" font-size="8.2" text-anchor="end" fill="#141414" stroke="#141414" stroke-width="0.2" textLength="12" lengthAdjust="spacingAndGlyphs">120</text>
<text transform="translate(327.1 224.1) rotate(-90)" font-size="10.1" text-anchor="middle" fill="#141414" stroke="#141414" stroke-width="0.18" textLength="94.2" lengthAdjust="spacingAndGlyphs">% platelets /quadrant</text>
<rect x="444.00" y="197.20" width="9.20" height="4.60" fill="#a50026"/>
<text transform="translate(456 202.2)" font-size="8.0" text-anchor="start" fill="#1a1a1a" stroke="#1a1a1a" stroke-width="0.17" textLength="49.2" lengthAdjust="spacingAndGlyphs">GPIbα low/PS+</text>
<rect x="444.00" y="209.50" width="9.20" height="4.60" fill="#d98c7e"/>
<text transform="translate(456 214.5)" font-size="8.0" text-anchor="start" fill="#1a1a1a" stroke="#1a1a1a" stroke-width="0.17" textLength="48" lengthAdjust="spacingAndGlyphs">GPIbα  low/PS-</text>
<rect x="444.00" y="221.90" width="9.20" height="4.60" fill="#2b4a80"/>
<text transform="translate(456 226.9)" font-size="8.0" text-anchor="start" fill="#1a1a1a" stroke="#1a1a1a" stroke-width="0.17" textLength="52" lengthAdjust="spacingAndGlyphs">GPIbα high/PS+</text>
<rect x="444.00" y="234.20" width="9.20" height="4.60" fill="#8e94bd"/>
<text transform="translate(456 239.2)" font-size="8.0" text-anchor="start" fill="#1a1a1a" stroke="#1a1a1a" stroke-width="0.17" textLength="50.5" lengthAdjust="spacingAndGlyphs">GPIbα high/PS-</text>
<rect x="357.50" y="307.42" width="19.70" height="69.58" fill="#8e94bd"/>
<rect x="357.50" y="306.07" width="19.70" height="1.35" fill="#dc8486"/>
<rect x="362.80" y="305.57" width="9.40" height="1.50" fill="#0a0a0a"/>
<line x1="367.5" y1="377" x2="367.5" y2="380.2" stroke="#0a0a0a" stroke-width="1.0"/>
<text transform="translate(362.3 388.7)" font-size="8.7" text-anchor="start" fill="#141414" stroke="#141414" stroke-width="0.16" textLength="10.6" lengthAdjust="spacingAndGlyphs">ctrl</text>
<rect x="387.20" y="375.86" width="19.40" height="1.14" fill="#2b4a80"/>
<rect x="387.20" y="369.90" width="19.40" height="5.96" fill="#d98c7e"/>
<rect x="387.20" y="306.00" width="19.40" height="63.90" fill="#a50026"/>
<line x1="397" y1="303.16" x2="397" y2="306" stroke="#0a0a0a" stroke-width="1.1"/>
<line x1="392.3" y1="303.16" x2="401.7" y2="303.16" stroke="#0a0a0a" stroke-width="1.1"/>
<line x1="397" y1="367.49" x2="397" y2="369.9" stroke="#0a0a0a" stroke-width="1.1"/>
<line x1="392.3" y1="367.49" x2="401.7" y2="367.49" stroke="#0a0a0a" stroke-width="1.1"/>
<line x1="392.3" y1="369.9" x2="401.7" y2="369.9" stroke="#0a0a0a" stroke-width="1.1"/>
<rect x="392.50" y="374.65" width="9.00" height="1.85" fill="#0a0a0a"/>
<line x1="397" y1="377" x2="397" y2="380.2" stroke="#0a0a0a" stroke-width="1.0"/>
<text transform="translate(393.1 388.7)" font-size="8.7" text-anchor="start" fill="#141414" stroke="#141414" stroke-width="0.16" textLength="8.3" lengthAdjust="spacingAndGlyphs">30</text>
<rect x="416.80" y="376.36" width="19.70" height="0.64" fill="#2b4a80"/>
<rect x="416.80" y="372.53" width="19.70" height="3.83" fill="#d98c7e"/>
<rect x="416.80" y="306.00" width="19.70" height="66.53" fill="#a50026"/>
<rect x="421.70" y="305.14" width="9.40" height="1.36" fill="#0a0a0a"/>
<rect x="421.90" y="371.60" width="9.00" height="1.92" fill="#0a0a0a"/>
<rect x="422.40" y="375.51" width="8.00" height="1.43" fill="#0a0a0a"/>
<line x1="426.4" y1="377" x2="426.4" y2="380.2" stroke="#0a0a0a" stroke-width="1.0"/>
<text transform="translate(422.3 388.7)" font-size="8.7" text-anchor="start" fill="#141414" stroke="#141414" stroke-width="0.16" textLength="8.3" lengthAdjust="spacingAndGlyphs">60</text>
<line x1="352.6" y1="288.6" x2="352.6" y2="377.7" stroke="#0a0a0a" stroke-width="1.4"/>
<line x1="351.9" y1="377" x2="441.2" y2="377" stroke="#0a0a0a" stroke-width="1.4"/>
<line x1="348.4" y1="377" x2="352.6" y2="377" stroke="#0a0a0a" stroke-width="1.0"/>
<text transform="translate(346.5 379.8)" font-size="8.2" text-anchor="end" fill="#141414" stroke="#141414" stroke-width="0.2" textLength="4" lengthAdjust="spacingAndGlyphs">0</text>
<line x1="348.4" y1="362.8" x2="352.6" y2="362.8" stroke="#0a0a0a" stroke-width="1.0"/>
<text transform="translate(346.5 365.6)" font-size="8.2" text-anchor="end" fill="#141414" stroke="#141414" stroke-width="0.2" textLength="8" lengthAdjust="spacingAndGlyphs">20</text>
<line x1="348.4" y1="348.6" x2="352.6" y2="348.6" stroke="#0a0a0a" stroke-width="1.0"/>
<text transform="translate(346.5 351.4)" font-size="8.2" text-anchor="end" fill="#141414" stroke="#141414" stroke-width="0.2" textLength="8" lengthAdjust="spacingAndGlyphs">40</text>
<line x1="348.4" y1="334.4" x2="352.6" y2="334.4" stroke="#0a0a0a" stroke-width="1.0"/>
<text transform="translate(346.5 337.2)" font-size="8.2" text-anchor="end" fill="#141414" stroke="#141414" stroke-width="0.2" textLength="8" lengthAdjust="spacingAndGlyphs">60</text>
<line x1="348.4" y1="320.2" x2="352.6" y2="320.2" stroke="#0a0a0a" stroke-width="1.0"/>
<text transform="translate(346.5 323)" font-size="8.2" text-anchor="end" fill="#141414" stroke="#141414" stroke-width="0.2" textLength="8" lengthAdjust="spacingAndGlyphs">80</text>
<line x1="348.4" y1="306" x2="352.6" y2="306" stroke="#0a0a0a" stroke-width="1.0"/>
<text transform="translate(346.5 308.8)" font-size="8.2" text-anchor="end" fill="#141414" stroke="#141414" stroke-width="0.2" textLength="12" lengthAdjust="spacingAndGlyphs">100</text>
<line x1="348.4" y1="291.8" x2="352.6" y2="291.8" stroke="#0a0a0a" stroke-width="1.0"/>
<text transform="translate(346.5 294.6)" font-size="8.2" text-anchor="end" fill="#141414" stroke="#141414" stroke-width="0.2" textLength="12" lengthAdjust="spacingAndGlyphs">120</text>
<text transform="translate(327.1 333.1) rotate(-90)" font-size="10.1" text-anchor="middle" fill="#141414" stroke="#141414" stroke-width="0.18" textLength="92.2" lengthAdjust="spacingAndGlyphs">% platelets/quadrant</text>
<rect x="445.70" y="306.20" width="9.20" height="4.60" fill="#a50026"/>
<text transform="translate(458 311.2)" font-size="8.0" text-anchor="start" fill="#1a1a1a" stroke="#1a1a1a" stroke-width="0.17" textLength="43.4" lengthAdjust="spacingAndGlyphs">GPVI low/PS+</text>
<rect x="445.70" y="317.70" width="9.20" height="4.60" fill="#d98c7e"/>
<text transform="translate(458 322.7)" font-size="8.0" text-anchor="start" fill="#1a1a1a" stroke="#1a1a1a" stroke-width="0.17" textLength="41.1" lengthAdjust="spacingAndGlyphs">GPVI low/PS-</text>
<rect x="445.70" y="329.30" width="9.20" height="4.60" fill="#2b4a80"/>
<text transform="translate(458 334.3)" font-size="8.0" text-anchor="start" fill="#1a1a1a" stroke="#1a1a1a" stroke-width="0.17" textLength="46" lengthAdjust="spacingAndGlyphs">GPVI high/PS+</text>
<rect x="445.70" y="341.00" width="9.20" height="4.60" fill="#8e94bd"/>
<text transform="translate(458 346)" font-size="8.0" text-anchor="start" fill="#1a1a1a" stroke="#1a1a1a" stroke-width="0.17" textLength="44.2" lengthAdjust="spacingAndGlyphs">GPVI high/PS-</text>
<text transform="translate(375.8 403.9)" font-size="9.9" text-anchor="start" fill="#141414" stroke="#141414" stroke-width="0.18" textLength="43.3" lengthAdjust="spacingAndGlyphs">Time (min)</text>
<g shape-rendering="crispEdges">
<rect x="0" y="0" width="520" height="1" fill="#050505"/>
<rect x="0" y="1" width="520" height="1" fill="#efefef"/>
<rect x="0" y="412" width="520" height="1" fill="#8c8c8c"/>
<rect x="0" y="413" width="520" height="1" fill="#1c1c1c"/>
<rect x="0" y="0" width="1" height="414" fill="#1c1c1c"/>
<rect x="1" y="1" width="1" height="412" fill="#8c8c8c"/>
<rect x="518" y="1" width="1" height="412" fill="#828282"/>
<rect x="519" y="0" width="1" height="414" fill="#111"/>
</g>
</svg>
</div>
</body>
</html>
